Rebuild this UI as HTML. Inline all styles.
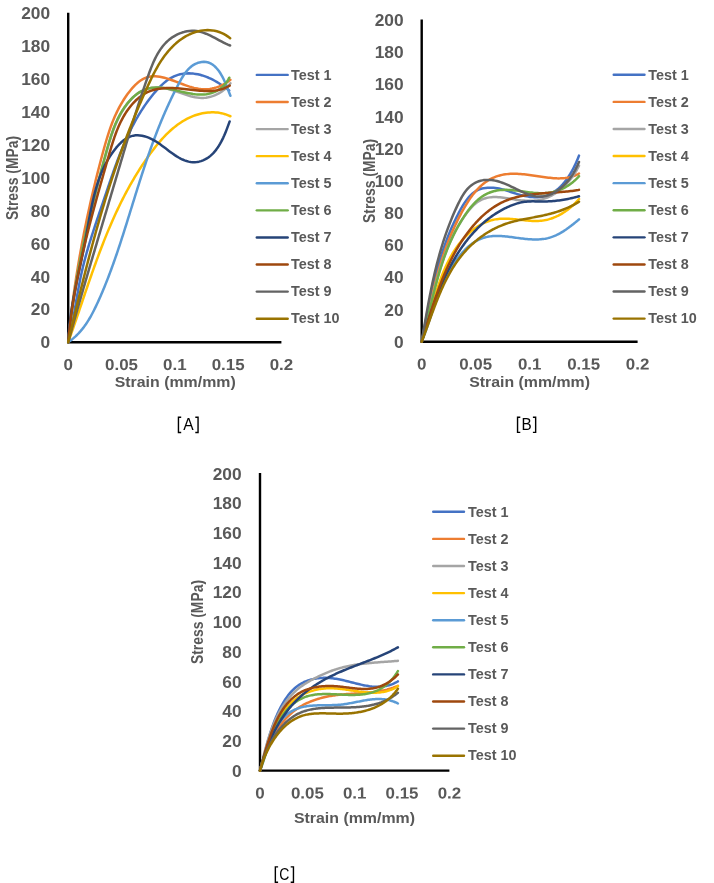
<!DOCTYPE html>
<html><head><meta charset="utf-8"><title>Stress-strain</title>
<style>
html,body{margin:0;padding:0;background:#fff;}
svg{display:block;font-family:"Liberation Sans",sans-serif;}
</style></head><body>
<svg width="714" height="883" viewBox="0 0 714 883">
<rect width="714" height="883" fill="#fff"/>
<defs><filter id="idf" x="0" y="0" width="714" height="883" filterUnits="userSpaceOnUse" color-interpolation-filters="sRGB"><feOffset dx="0" dy="0"/></filter></defs>
<g filter="url(#idf)">
<path d="M68.20 12.70 V342.20 H281.40" fill="none" stroke="#000" stroke-width="2.40" stroke-linejoin="round"/>
<path d="M68.20 342.20 L68.71 340.08 L69.21 337.96 L69.70 335.83 L70.17 333.69 L70.63 331.54 L71.07 329.38 L71.51 327.22 L71.93 325.05 L72.35 322.88 L72.76 320.70 L73.16 318.52 L73.55 316.33 L73.94 314.14 L74.33 311.95 L74.71 309.76 L75.09 307.56 L75.47 305.36 L75.84 303.16 L76.22 300.96 L76.60 298.76 L76.99 296.56 L77.37 294.36 L77.76 292.16 L78.16 289.96 L78.56 287.77 L78.97 285.58 L79.39 283.39 L79.82 281.20 L80.26 279.02 L80.71 276.85 L81.17 274.67 L81.65 272.51 L82.14 270.35 L82.64 268.20 L83.16 266.05 L83.69 263.91 L84.23 261.77 L84.79 259.64 L85.36 257.51 L85.94 255.39 L86.53 253.27 L87.13 251.16 L87.74 249.05 L88.36 246.94 L88.99 244.84 L89.62 242.74 L90.27 240.64 L90.92 238.55 L91.59 236.45 L92.25 234.36 L92.93 232.27 L93.61 230.18 L94.29 228.09 L94.98 226.01 L95.67 223.92 L96.37 221.84 L97.07 219.75 L97.77 217.67 L98.48 215.58 L99.19 213.49 L99.90 211.40 L100.61 209.31 L101.32 207.22 L102.03 205.13 L102.74 203.04 L103.45 200.94 L104.16 198.84 L104.87 196.74 L105.57 194.63 L106.28 192.53 L106.99 190.42 L107.70 188.32 L108.41 186.21 L109.12 184.10 L109.84 181.99 L110.56 179.89 L111.29 177.78 L112.01 175.68 L112.75 173.57 L113.49 171.47 L114.23 169.37 L114.99 167.28 L115.75 165.19 L116.51 163.10 L117.29 161.01 L118.08 158.93 L118.87 156.85 L119.68 154.78 L120.49 152.72 L121.32 150.66 L122.16 148.60 L123.01 146.56 L123.87 144.51 L124.75 142.48 L125.64 140.45 L126.55 138.43 L127.47 136.42 L128.40 134.42 L129.36 132.43 L130.33 130.45 L131.31 128.47 L132.32 126.51 L133.34 124.55 L134.38 122.61 L135.44 120.68 L136.52 118.76 L137.62 116.85 L138.74 114.95 L139.89 113.07 L141.06 111.20 L142.24 109.34 L143.46 107.50 L144.69 105.67 L145.95 103.85 L147.24 102.05 L148.55 100.26 L149.89 98.49 L151.25 96.74 L152.64 95.00 L154.06 93.28 L155.51 91.57 L156.98 89.89 L158.49 88.24 L160.04 86.64 L161.62 85.08 L163.25 83.59 L164.91 82.16 L166.63 80.81 L168.39 79.55 L170.20 78.39 L172.06 77.33 L173.98 76.39 L175.96 75.56 L177.99 74.87 L180.09 74.32 L182.23 73.89 L184.41 73.60 L186.63 73.43 L188.86 73.37 L191.11 73.44 L193.36 73.62 L195.60 73.92 L197.83 74.32 L200.04 74.82 L202.23 75.43 L204.38 76.13 L206.51 76.91 L208.60 77.77 L210.66 78.71 L212.69 79.71 L214.68 80.77 L216.64 81.89 L218.56 83.05 L220.43 84.25 L222.27 85.48 L224.07 86.74 L225.82 88.02 L227.53 89.31 L229.19 90.60" fill="none" stroke="#4472C4" stroke-width="2.50" stroke-linecap="round" stroke-linejoin="round"/>
<path d="M68.20 342.20 L68.42 339.87 L68.64 337.55 L68.86 335.22 L69.09 332.89 L69.33 330.57 L69.57 328.25 L69.82 325.92 L70.07 323.60 L70.33 321.28 L70.60 318.96 L70.86 316.64 L71.14 314.32 L71.42 312.00 L71.70 309.68 L71.99 307.36 L72.29 305.04 L72.59 302.73 L72.89 300.41 L73.20 298.10 L73.52 295.78 L73.84 293.47 L74.16 291.16 L74.49 288.85 L74.83 286.54 L75.17 284.22 L75.52 281.92 L75.87 279.61 L76.22 277.30 L76.58 274.99 L76.95 272.69 L77.32 270.38 L77.70 268.08 L78.08 265.77 L78.46 263.47 L78.85 261.17 L79.25 258.87 L79.65 256.56 L80.06 254.27 L80.47 251.97 L80.88 249.67 L81.30 247.37 L81.72 245.07 L82.15 242.78 L82.59 240.48 L83.03 238.19 L83.47 235.90 L83.92 233.61 L84.37 231.32 L84.83 229.03 L85.29 226.74 L85.76 224.45 L86.23 222.16 L86.71 219.87 L87.19 217.59 L87.68 215.30 L88.17 213.02 L88.66 210.74 L89.16 208.46 L89.67 206.17 L90.18 203.89 L90.69 201.62 L91.21 199.34 L91.73 197.06 L92.26 194.78 L92.79 192.51 L93.32 190.24 L93.86 187.96 L94.41 185.69 L94.96 183.42 L95.51 181.15 L96.07 178.88 L96.63 176.61 L97.20 174.34 L97.77 172.08 L98.35 169.81 L98.93 167.55 L99.51 165.29 L100.10 163.02 L100.69 160.76 L101.29 158.50 L101.89 156.24 L102.49 153.99 L103.10 151.73 L103.72 149.48 L104.34 147.22 L104.98 144.97 L105.62 142.73 L106.28 140.49 L106.95 138.25 L107.64 136.02 L108.35 133.80 L109.08 131.59 L109.83 129.38 L110.60 127.18 L111.40 124.99 L112.23 122.82 L113.08 120.65 L113.97 118.50 L114.89 116.36 L115.85 114.23 L116.84 112.12 L117.88 110.02 L118.95 107.93 L120.06 105.87 L121.22 103.82 L122.42 101.79 L123.68 99.77 L124.98 97.78 L126.33 95.81 L127.73 93.85 L129.19 91.92 L130.71 90.02 L132.28 88.16 L133.91 86.37 L135.59 84.67 L137.33 83.07 L139.12 81.59 L140.97 80.26 L142.87 79.09 L144.82 78.10 L146.82 77.32 L148.88 76.76 L150.98 76.40 L153.13 76.24 L155.32 76.26 L157.54 76.43 L159.79 76.75 L162.06 77.20 L164.36 77.76 L166.66 78.42 L168.98 79.15 L171.30 79.95 L173.62 80.79 L175.94 81.65 L178.24 82.54 L180.54 83.41 L182.81 84.27 L185.07 85.10 L187.31 85.88 L189.54 86.61 L191.77 87.27 L193.99 87.85 L196.22 88.35 L198.45 88.75 L200.69 89.04 L202.95 89.20 L205.21 89.24 L207.49 89.14 L209.78 88.90 L212.06 88.53 L214.33 88.02 L216.57 87.39 L218.79 86.62 L220.96 85.72 L223.08 84.69 L225.15 83.53 L227.15 82.24 L229.07 80.83 L230.40 79.72" fill="none" stroke="#ED7D31" stroke-width="2.50" stroke-linecap="round" stroke-linejoin="round"/>
<path d="M68.20 342.20 L68.43 339.92 L68.66 337.64 L68.90 335.36 L69.15 333.08 L69.40 330.80 L69.66 328.53 L69.93 326.26 L70.20 323.99 L70.48 321.72 L70.76 319.45 L71.05 317.19 L71.35 314.92 L71.65 312.66 L71.96 310.40 L72.28 308.14 L72.60 305.89 L72.93 303.63 L73.26 301.38 L73.60 299.13 L73.95 296.87 L74.30 294.62 L74.65 292.38 L75.01 290.13 L75.38 287.88 L75.75 285.64 L76.13 283.40 L76.52 281.16 L76.91 278.92 L77.30 276.68 L77.70 274.44 L78.10 272.20 L78.51 269.97 L78.93 267.73 L79.35 265.50 L79.78 263.26 L80.21 261.03 L80.64 258.80 L81.08 256.57 L81.53 254.34 L81.98 252.11 L82.43 249.89 L82.89 247.66 L83.36 245.44 L83.82 243.21 L84.30 240.99 L84.78 238.76 L85.26 236.54 L85.75 234.32 L86.24 232.10 L86.73 229.88 L87.23 227.66 L87.74 225.44 L88.24 223.22 L88.76 221.00 L89.27 218.78 L89.79 216.56 L90.32 214.35 L90.85 212.13 L91.38 209.91 L91.91 207.70 L92.45 205.48 L93.00 203.26 L93.54 201.05 L94.10 198.83 L94.65 196.62 L95.21 194.40 L95.77 192.19 L96.34 189.97 L96.90 187.76 L97.48 185.54 L98.05 183.33 L98.63 181.11 L99.21 178.90 L99.80 176.68 L100.38 174.47 L100.98 172.25 L101.57 170.04 L102.17 167.82 L102.77 165.61 L103.37 163.39 L103.98 161.18 L104.58 158.96 L105.20 156.74 L105.81 154.52 L106.43 152.31 L107.05 150.09 L107.68 147.87 L108.31 145.66 L108.96 143.46 L109.62 141.26 L110.30 139.06 L111.00 136.88 L111.72 134.71 L112.47 132.54 L113.24 130.40 L114.04 128.26 L114.87 126.15 L115.74 124.05 L116.65 121.97 L117.59 119.91 L118.58 117.88 L119.61 115.87 L120.68 113.88 L121.81 111.92 L122.99 109.99 L124.23 108.08 L125.52 106.21 L126.87 104.37 L128.28 102.57 L129.76 100.80 L131.31 99.09 L132.93 97.44 L134.62 95.89 L136.39 94.44 L138.25 93.11 L140.18 91.91 L142.19 90.85 L144.25 89.92 L146.37 89.13 L148.52 88.49 L150.71 87.99 L152.93 87.64 L155.16 87.43 L157.39 87.38 L159.62 87.48 L161.85 87.71 L164.08 88.06 L166.31 88.52 L168.53 89.07 L170.75 89.69 L172.97 90.38 L175.19 91.11 L177.41 91.86 L179.62 92.64 L181.83 93.41 L184.04 94.17 L186.25 94.90 L188.46 95.59 L190.66 96.21 L192.86 96.76 L195.07 97.22 L197.27 97.58 L199.46 97.82 L201.66 97.92 L203.86 97.88 L206.05 97.68 L208.24 97.33 L210.41 96.82 L212.55 96.16 L214.67 95.36 L216.74 94.43 L218.77 93.36 L220.73 92.17 L222.64 90.86 L224.47 89.44 L226.22 87.90 L227.88 86.26 L229.44 84.52 L230.40 83.32" fill="none" stroke="#A5A5A5" stroke-width="2.50" stroke-linecap="round" stroke-linejoin="round"/>
<path d="M68.20 342.20 L68.85 340.40 L69.49 338.60 L70.13 336.79 L70.77 334.99 L71.41 333.18 L72.04 331.38 L72.67 329.57 L73.30 327.77 L73.93 325.96 L74.55 324.16 L75.17 322.35 L75.79 320.54 L76.41 318.74 L77.03 316.93 L77.65 315.12 L78.27 313.32 L78.88 311.51 L79.49 309.70 L80.11 307.90 L80.72 306.09 L81.33 304.29 L81.95 302.48 L82.56 300.68 L83.17 298.87 L83.78 297.07 L84.40 295.27 L85.01 293.46 L85.63 291.66 L86.24 289.86 L86.86 288.06 L87.47 286.26 L88.09 284.46 L88.71 282.66 L89.34 280.86 L89.96 279.07 L90.58 277.27 L91.21 275.48 L91.84 273.69 L92.47 271.89 L93.11 270.10 L93.74 268.32 L94.38 266.53 L95.02 264.74 L95.67 262.96 L96.32 261.17 L96.97 259.39 L97.63 257.61 L98.28 255.83 L98.95 254.06 L99.61 252.28 L100.28 250.51 L100.96 248.74 L101.64 246.97 L102.32 245.20 L103.01 243.44 L103.70 241.67 L104.40 239.91 L105.10 238.15 L105.81 236.40 L106.53 234.64 L107.24 232.89 L107.97 231.14 L108.70 229.39 L109.44 227.65 L110.18 225.90 L110.93 224.17 L111.68 222.43 L112.44 220.69 L113.21 218.96 L113.99 217.23 L114.77 215.51 L115.56 213.78 L116.36 212.06 L117.16 210.35 L117.97 208.63 L118.79 206.92 L119.62 205.21 L120.45 203.51 L121.30 201.81 L122.15 200.11 L123.01 198.42 L123.88 196.72 L124.75 195.04 L125.64 193.35 L126.53 191.67 L127.44 189.99 L128.35 188.32 L129.28 186.65 L130.21 184.98 L131.15 183.32 L132.10 181.66 L133.07 180.01 L134.04 178.36 L135.02 176.71 L136.01 175.07 L137.02 173.43 L138.03 171.80 L139.06 170.17 L140.10 168.54 L141.14 166.92 L142.20 165.30 L143.27 163.69 L144.36 162.08 L145.45 160.48 L146.56 158.88 L147.67 157.28 L148.80 155.69 L149.95 154.11 L151.10 152.53 L152.27 150.97 L153.46 149.41 L154.65 147.87 L155.86 146.33 L157.09 144.82 L158.33 143.32 L159.59 141.83 L160.86 140.37 L162.14 138.93 L163.45 137.50 L164.77 136.11 L166.11 134.73 L167.46 133.39 L168.83 132.07 L170.23 130.78 L171.63 129.52 L173.06 128.29 L174.51 127.10 L175.98 125.94 L177.46 124.81 L178.97 123.73 L180.50 122.69 L182.04 121.68 L183.61 120.72 L185.20 119.80 L186.81 118.93 L188.45 118.10 L190.10 117.32 L191.78 116.59 L193.49 115.92 L195.21 115.29 L196.96 114.72 L198.74 114.20 L200.54 113.74 L202.36 113.34 L204.20 113.00 L206.07 112.73 L207.95 112.52 L209.84 112.38 L211.74 112.32 L213.65 112.33 L215.56 112.42 L217.48 112.60 L219.40 112.86 L221.31 113.21 L223.21 113.65 L225.10 114.18 L226.99 114.82 L228.85 115.55 L230.40 116.25" fill="none" stroke="#FFC000" stroke-width="2.50" stroke-linecap="round" stroke-linejoin="round"/>
<path d="M68.20 342.20 L70.16 340.82 L72.03 339.39 L73.83 337.89 L75.56 336.35 L77.22 334.75 L78.81 333.11 L80.33 331.41 L81.80 329.68 L83.21 327.90 L84.57 326.09 L85.87 324.24 L87.13 322.35 L88.35 320.44 L89.52 318.49 L90.66 316.52 L91.76 314.52 L92.83 312.51 L93.87 310.47 L94.89 308.42 L95.89 306.36 L96.87 304.28 L97.83 302.20 L98.78 300.11 L99.72 298.01 L100.65 295.90 L101.56 293.79 L102.46 291.67 L103.36 289.55 L104.24 287.42 L105.11 285.29 L105.97 283.15 L106.82 281.01 L107.66 278.86 L108.49 276.71 L109.31 274.55 L110.13 272.39 L110.93 270.22 L111.73 268.05 L112.51 265.88 L113.29 263.71 L114.07 261.53 L114.83 259.35 L115.59 257.17 L116.34 254.99 L117.09 252.80 L117.83 250.61 L118.56 248.42 L119.29 246.23 L120.01 244.04 L120.73 241.85 L121.44 239.66 L122.15 237.46 L122.85 235.27 L123.55 233.08 L124.25 230.88 L124.94 228.69 L125.63 226.50 L126.32 224.31 L127.01 222.12 L127.69 219.93 L128.37 217.74 L129.05 215.56 L129.73 213.37 L130.40 211.19 L131.08 209.00 L131.76 206.82 L132.43 204.63 L133.11 202.45 L133.78 200.27 L134.46 198.09 L135.14 195.91 L135.81 193.73 L136.49 191.56 L137.17 189.38 L137.86 187.21 L138.54 185.03 L139.23 182.86 L139.92 180.69 L140.62 178.51 L141.31 176.34 L142.02 174.17 L142.72 172.01 L143.43 169.84 L144.14 167.67 L144.86 165.51 L145.59 163.35 L146.32 161.18 L147.05 159.02 L147.79 156.86 L148.54 154.70 L149.29 152.55 L150.05 150.39 L150.82 148.23 L151.59 146.08 L152.37 143.93 L153.16 141.78 L153.96 139.63 L154.76 137.48 L155.58 135.33 L156.40 133.18 L157.24 131.04 L158.08 128.89 L158.93 126.75 L159.79 124.61 L160.66 122.47 L161.55 120.33 L162.44 118.20 L163.35 116.06 L164.26 113.93 L165.19 111.80 L166.13 109.66 L167.08 107.53 L168.05 105.41 L169.03 103.28 L170.02 101.16 L171.02 99.03 L172.04 96.91 L173.07 94.79 L174.12 92.67 L175.18 90.55 L176.25 88.44 L177.34 86.32 L178.45 84.21 L179.58 82.11 L180.73 80.03 L181.92 77.99 L183.14 76.01 L184.42 74.09 L185.76 72.26 L187.16 70.52 L188.64 68.90 L190.19 67.41 L191.84 66.06 L193.58 64.87 L195.42 63.86 L197.38 63.04 L199.45 62.41 L201.64 62.01 L203.91 61.87 L206.18 62.01 L208.39 62.48 L210.48 63.31 L212.43 64.47 L214.23 65.89 L215.90 67.49 L217.45 69.23 L218.89 71.07 L220.22 73.01 L221.45 75.03 L222.60 77.11 L223.67 79.24 L224.68 81.41 L225.63 83.60 L226.52 85.79 L227.38 87.97 L228.21 90.12 L229.02 92.23 L229.82 94.28 L230.40 95.74" fill="none" stroke="#5B9BD5" stroke-width="2.50" stroke-linecap="round" stroke-linejoin="round"/>
<path d="M68.20 342.20 L68.42 339.92 L68.64 337.63 L68.88 335.35 L69.11 333.07 L69.36 330.80 L69.61 328.53 L69.87 326.25 L70.14 323.99 L70.41 321.72 L70.69 319.45 L70.97 317.19 L71.26 314.93 L71.56 312.67 L71.87 310.41 L72.18 308.16 L72.49 305.90 L72.82 303.65 L73.14 301.40 L73.48 299.15 L73.82 296.91 L74.17 294.66 L74.52 292.42 L74.88 290.18 L75.24 287.94 L75.61 285.70 L75.98 283.46 L76.36 281.23 L76.75 278.99 L77.14 276.76 L77.54 274.53 L77.94 272.30 L78.35 270.07 L78.76 267.84 L79.18 265.61 L79.60 263.38 L80.03 261.16 L80.46 258.93 L80.90 256.71 L81.35 254.49 L81.79 252.27 L82.25 250.05 L82.70 247.83 L83.17 245.61 L83.63 243.39 L84.10 241.17 L84.58 238.96 L85.06 236.74 L85.55 234.53 L86.03 232.31 L86.53 230.10 L87.03 227.88 L87.53 225.67 L88.03 223.46 L88.54 221.24 L89.06 219.03 L89.58 216.82 L90.10 214.61 L90.62 212.40 L91.15 210.18 L91.69 207.97 L92.23 205.76 L92.77 203.55 L93.31 201.34 L93.86 199.13 L94.41 196.92 L94.97 194.71 L95.52 192.50 L96.09 190.28 L96.65 188.07 L97.22 185.86 L97.79 183.65 L98.36 181.43 L98.94 179.22 L99.52 177.01 L100.11 174.79 L100.69 172.58 L101.28 170.37 L101.87 168.15 L102.47 165.93 L103.07 163.72 L103.67 161.50 L104.27 159.28 L104.87 157.06 L105.48 154.84 L106.09 152.62 L106.70 150.40 L107.32 148.18 L107.95 145.97 L108.59 143.76 L109.25 141.55 L109.92 139.35 L110.61 137.16 L111.32 134.98 L112.06 132.82 L112.82 130.67 L113.62 128.53 L114.45 126.41 L115.31 124.30 L116.21 122.22 L117.15 120.16 L118.14 118.12 L119.17 116.11 L120.25 114.12 L121.38 112.16 L122.56 110.23 L123.81 108.33 L125.11 106.46 L126.47 104.63 L127.90 102.83 L129.39 101.07 L130.95 99.35 L132.58 97.71 L134.27 96.14 L136.03 94.67 L137.86 93.32 L139.74 92.10 L141.68 91.01 L143.67 90.06 L145.70 89.27 L147.77 88.63 L149.88 88.16 L152.01 87.82 L154.17 87.63 L156.36 87.56 L158.56 87.60 L160.79 87.74 L163.04 87.98 L165.31 88.29 L167.59 88.67 L169.88 89.10 L172.19 89.58 L174.50 90.09 L176.81 90.62 L179.13 91.15 L181.45 91.69 L183.77 92.21 L186.09 92.71 L188.40 93.17 L190.71 93.58 L193.00 93.94 L195.29 94.22 L197.56 94.41 L199.81 94.52 L202.04 94.51 L204.26 94.39 L206.45 94.15 L208.61 93.77 L210.73 93.25 L212.80 92.59 L214.82 91.80 L216.78 90.85 L218.67 89.76 L220.49 88.52 L222.21 87.12 L223.85 85.56 L225.38 83.85 L226.81 81.96 L228.12 79.91 L229.30 77.69" fill="none" stroke="#70AD47" stroke-width="2.50" stroke-linecap="round" stroke-linejoin="round"/>
<path d="M68.20 342.20 L68.31 339.95 L68.43 337.71 L68.58 335.47 L68.74 333.25 L68.93 331.03 L69.13 328.82 L69.35 326.62 L69.58 324.42 L69.83 322.23 L70.10 320.04 L70.38 317.87 L70.68 315.69 L70.99 313.52 L71.31 311.36 L71.64 309.20 L71.99 307.05 L72.35 304.90 L72.72 302.75 L73.10 300.61 L73.49 298.47 L73.88 296.33 L74.29 294.20 L74.70 292.07 L75.12 289.94 L75.55 287.81 L75.98 285.68 L76.42 283.55 L76.86 281.43 L77.30 279.30 L77.75 277.17 L78.21 275.05 L78.66 272.92 L79.12 270.79 L79.57 268.67 L80.03 266.54 L80.49 264.40 L80.94 262.27 L81.40 260.13 L81.85 257.99 L82.30 255.85 L82.75 253.71 L83.19 251.56 L83.63 249.41 L84.06 247.25 L84.49 245.09 L84.91 242.92 L85.32 240.75 L85.73 238.57 L86.13 236.39 L86.52 234.20 L86.91 232.01 L87.30 229.82 L87.69 227.63 L88.08 225.43 L88.47 223.23 L88.86 221.04 L89.25 218.84 L89.66 216.64 L90.06 214.45 L90.48 212.26 L90.91 210.07 L91.34 207.89 L91.79 205.71 L92.26 203.54 L92.74 201.37 L93.23 199.21 L93.74 197.05 L94.27 194.91 L94.83 192.77 L95.40 190.65 L96.00 188.53 L96.62 186.42 L97.26 184.33 L97.94 182.25 L98.64 180.18 L99.37 178.12 L100.13 176.08 L100.93 174.06 L101.76 172.05 L102.63 170.05 L103.53 168.08 L104.47 166.12 L105.45 164.18 L106.47 162.26 L107.53 160.36 L108.63 158.48 L109.78 156.62 L110.98 154.78 L112.22 152.97 L113.51 151.18 L114.85 149.41 L116.25 147.67 L117.69 145.98 L119.20 144.35 L120.76 142.80 L122.37 141.35 L124.05 140.02 L125.79 138.81 L127.60 137.76 L129.47 136.86 L131.42 136.16 L133.43 135.65 L135.51 135.35 L137.66 135.28 L139.86 135.42 L142.07 135.75 L144.27 136.25 L146.44 136.89 L148.55 137.67 L150.60 138.56 L152.59 139.55 L154.54 140.64 L156.44 141.80 L158.31 143.03 L160.15 144.31 L161.97 145.64 L163.78 147.00 L165.59 148.37 L167.40 149.76 L169.22 151.14 L171.06 152.50 L172.92 153.83 L174.81 155.12 L176.71 156.34 L178.63 157.49 L180.58 158.56 L182.54 159.51 L184.53 160.35 L186.54 161.05 L188.56 161.61 L190.61 162.00 L192.67 162.21 L194.76 162.22 L196.85 162.04 L198.94 161.66 L201.01 161.10 L203.04 160.36 L205.00 159.46 L206.89 158.40 L208.69 157.20 L210.40 155.86 L212.03 154.40 L213.57 152.82 L215.03 151.15 L216.41 149.38 L217.73 147.54 L218.97 145.64 L220.14 143.68 L221.25 141.68 L222.29 139.64 L223.28 137.59 L224.21 135.53 L225.08 133.48 L225.91 131.43 L226.71 129.40 L227.47 127.38 L228.21 125.38 L228.94 123.39 L229.66 121.44" fill="none" stroke="#264478" stroke-width="2.50" stroke-linecap="round" stroke-linejoin="round"/>
<path d="M68.20 342.20 L68.40 339.96 L68.61 337.73 L68.83 335.49 L69.06 333.27 L69.30 331.04 L69.54 328.82 L69.80 326.60 L70.06 324.39 L70.33 322.18 L70.61 319.97 L70.89 317.77 L71.19 315.57 L71.49 313.37 L71.80 311.17 L72.12 308.98 L72.45 306.79 L72.78 304.60 L73.12 302.42 L73.47 300.24 L73.83 298.06 L74.19 295.88 L74.56 293.71 L74.94 291.54 L75.32 289.37 L75.71 287.20 L76.11 285.03 L76.51 282.87 L76.93 280.71 L77.34 278.55 L77.77 276.39 L78.19 274.24 L78.63 272.09 L79.07 269.93 L79.52 267.78 L79.97 265.64 L80.43 263.49 L80.90 261.34 L81.37 259.20 L81.84 257.05 L82.32 254.91 L82.81 252.77 L83.30 250.63 L83.80 248.49 L84.30 246.36 L84.80 244.22 L85.31 242.08 L85.83 239.95 L86.35 237.81 L86.87 235.68 L87.40 233.54 L87.94 231.41 L88.47 229.28 L89.02 227.15 L89.56 225.01 L90.11 222.88 L90.66 220.75 L91.22 218.62 L91.78 216.49 L92.34 214.36 L92.91 212.22 L93.48 210.09 L94.05 207.96 L94.63 205.83 L95.21 203.69 L95.79 201.56 L96.38 199.42 L96.97 197.29 L97.56 195.15 L98.15 193.02 L98.75 190.88 L99.34 188.74 L99.94 186.60 L100.55 184.46 L101.15 182.32 L101.76 180.18 L102.37 178.04 L102.98 175.89 L103.59 173.75 L104.20 171.60 L104.81 169.45 L105.43 167.30 L106.05 165.15 L106.67 163.00 L107.29 160.84 L107.91 158.68 L108.53 156.52 L109.15 154.36 L109.78 152.20 L110.41 150.04 L111.05 147.88 L111.70 145.73 L112.37 143.59 L113.05 141.45 L113.74 139.32 L114.46 137.20 L115.21 135.09 L115.97 132.99 L116.77 130.91 L117.60 128.85 L118.46 126.81 L119.35 124.78 L120.28 122.78 L121.25 120.80 L122.27 118.84 L123.33 116.91 L124.44 115.00 L125.59 113.13 L126.80 111.28 L128.07 109.47 L129.39 107.69 L130.76 105.95 L132.20 104.25 L133.69 102.61 L135.23 101.02 L136.83 99.51 L138.47 98.07 L140.17 96.71 L141.92 95.44 L143.72 94.26 L145.56 93.19 L147.45 92.23 L149.38 91.38 L151.36 90.65 L153.38 90.02 L155.43 89.48 L157.51 89.04 L159.63 88.69 L161.78 88.42 L163.95 88.22 L166.14 88.09 L168.35 88.03 L170.58 88.03 L172.83 88.08 L175.09 88.17 L177.35 88.31 L179.62 88.48 L181.90 88.68 L184.17 88.91 L186.45 89.15 L188.72 89.40 L190.98 89.66 L193.23 89.93 L195.46 90.18 L197.69 90.42 L199.90 90.64 L202.11 90.82 L204.30 90.95 L206.47 91.03 L208.64 91.05 L210.80 90.99 L212.94 90.85 L215.07 90.62 L217.19 90.28 L219.30 89.84 L221.40 89.27 L223.49 88.57 L225.57 87.73 L227.64 86.75 L229.70 85.60" fill="none" stroke="#9E480E" stroke-width="2.50" stroke-linecap="round" stroke-linejoin="round"/>
<path d="M68.20 342.20 L68.84 339.87 L69.49 337.54 L70.13 335.21 L70.78 332.88 L71.43 330.55 L72.08 328.21 L72.74 325.88 L73.39 323.55 L74.05 321.21 L74.71 318.88 L75.37 316.54 L76.03 314.20 L76.70 311.87 L77.36 309.53 L78.03 307.19 L78.70 304.86 L79.37 302.52 L80.04 300.18 L80.71 297.84 L81.39 295.50 L82.06 293.16 L82.74 290.82 L83.42 288.48 L84.10 286.14 L84.78 283.80 L85.46 281.46 L86.14 279.12 L86.82 276.78 L87.51 274.44 L88.19 272.10 L88.88 269.76 L89.57 267.42 L90.25 265.08 L90.94 262.74 L91.63 260.40 L92.32 258.06 L93.01 255.72 L93.71 253.38 L94.40 251.04 L95.09 248.70 L95.78 246.36 L96.48 244.02 L97.17 241.68 L97.86 239.34 L98.56 237.00 L99.25 234.67 L99.95 232.33 L100.64 229.99 L101.34 227.65 L102.03 225.32 L102.73 222.98 L103.43 220.65 L104.12 218.31 L104.82 215.98 L105.51 213.64 L106.21 211.31 L106.90 208.98 L107.60 206.65 L108.29 204.31 L108.99 201.98 L109.68 199.65 L110.38 197.32 L111.07 195.00 L111.76 192.67 L112.46 190.34 L113.15 188.01 L113.84 185.69 L114.53 183.37 L115.22 181.04 L115.91 178.72 L116.60 176.40 L117.29 174.08 L117.98 171.76 L118.66 169.44 L119.35 167.12 L120.04 164.80 L120.72 162.49 L121.41 160.17 L122.09 157.86 L122.78 155.54 L123.46 153.23 L124.15 150.92 L124.84 148.61 L125.53 146.29 L126.22 143.98 L126.91 141.67 L127.60 139.36 L128.30 137.05 L129.00 134.73 L129.70 132.42 L130.40 130.11 L131.11 127.80 L131.82 125.48 L132.53 123.17 L133.25 120.86 L133.97 118.54 L134.69 116.23 L135.42 113.91 L136.15 111.60 L136.89 109.28 L137.63 106.96 L138.38 104.64 L139.13 102.32 L139.89 100.00 L140.66 97.67 L141.43 95.35 L142.21 93.02 L142.99 90.70 L143.78 88.37 L144.58 86.04 L145.38 83.70 L146.19 81.37 L147.01 79.03 L147.84 76.70 L148.67 74.36 L149.52 72.02 L150.39 69.70 L151.29 67.39 L152.21 65.10 L153.17 62.84 L154.17 60.60 L155.21 58.41 L156.30 56.25 L157.45 54.14 L158.66 52.09 L159.94 50.09 L161.28 48.15 L162.70 46.28 L164.21 44.49 L165.80 42.77 L167.48 41.14 L169.25 39.60 L171.13 38.15 L173.12 36.80 L175.21 35.56 L177.42 34.42 L179.73 33.42 L182.11 32.55 L184.54 31.84 L187.00 31.29 L189.48 30.93 L191.93 30.78 L194.36 30.83 L196.75 31.08 L199.10 31.51 L201.42 32.11 L203.72 32.85 L205.99 33.71 L208.24 34.67 L210.46 35.71 L212.67 36.81 L214.87 37.96 L217.05 39.13 L219.23 40.30 L221.40 41.46 L223.57 42.57 L225.74 43.63 L227.92 44.61 L230.10 45.50" fill="none" stroke="#636363" stroke-width="2.50" stroke-linecap="round" stroke-linejoin="round"/>
<path d="M68.20 342.20 L68.75 339.86 L69.30 337.53 L69.85 335.20 L70.40 332.86 L70.95 330.53 L71.50 328.20 L72.05 325.87 L72.61 323.54 L73.16 321.21 L73.71 318.88 L74.27 316.55 L74.83 314.22 L75.39 311.89 L75.95 309.57 L76.51 307.24 L77.07 304.92 L77.63 302.59 L78.20 300.27 L78.76 297.95 L79.33 295.62 L79.90 293.30 L80.47 290.98 L81.04 288.66 L81.62 286.34 L82.20 284.03 L82.78 281.71 L83.36 279.39 L83.94 277.08 L84.53 274.77 L85.11 272.45 L85.70 270.14 L86.30 267.83 L86.89 265.52 L87.49 263.21 L88.09 260.90 L88.69 258.59 L89.30 256.29 L89.90 253.98 L90.51 251.68 L91.13 249.37 L91.75 247.07 L92.37 244.77 L92.99 242.47 L93.62 240.17 L94.25 237.87 L94.88 235.57 L95.51 233.28 L96.15 230.98 L96.80 228.69 L97.45 226.40 L98.10 224.11 L98.75 221.82 L99.41 219.53 L100.07 217.24 L100.74 214.95 L101.41 212.67 L102.08 210.38 L102.76 208.10 L103.44 205.82 L104.13 203.54 L104.82 201.26 L105.51 198.98 L106.21 196.71 L106.92 194.43 L107.63 192.16 L108.34 189.88 L109.06 187.61 L109.78 185.34 L110.51 183.07 L111.25 180.81 L111.98 178.54 L112.73 176.28 L113.47 174.01 L114.23 171.75 L114.99 169.49 L115.75 167.23 L116.52 164.98 L117.30 162.72 L118.08 160.47 L118.86 158.21 L119.65 155.96 L120.45 153.71 L121.25 151.47 L122.06 149.22 L122.88 146.97 L123.70 144.73 L124.53 142.49 L125.36 140.25 L126.20 138.01 L127.04 135.77 L127.90 133.54 L128.76 131.30 L129.62 129.07 L130.49 126.84 L131.37 124.61 L132.25 122.38 L133.15 120.16 L134.04 117.93 L134.95 115.71 L135.86 113.49 L136.78 111.27 L137.71 109.06 L138.64 106.84 L139.58 104.63 L140.53 102.42 L141.48 100.21 L142.44 98.00 L143.41 95.79 L144.39 93.59 L145.38 91.39 L146.37 89.19 L147.37 86.99 L148.38 84.79 L149.40 82.60 L150.43 80.41 L151.48 78.24 L152.54 76.07 L153.63 73.92 L154.74 71.78 L155.88 69.66 L157.04 67.57 L158.24 65.49 L159.47 63.45 L160.74 61.43 L162.04 59.44 L163.39 57.48 L164.79 55.56 L166.23 53.68 L167.72 51.84 L169.27 50.04 L170.87 48.28 L172.53 46.57 L174.24 44.92 L176.01 43.32 L177.82 41.79 L179.69 40.33 L181.61 38.94 L183.57 37.63 L185.58 36.41 L187.63 35.28 L189.73 34.25 L191.86 33.31 L194.03 32.49 L196.23 31.78 L198.46 31.18 L200.72 30.71 L203.00 30.37 L205.30 30.16 L207.60 30.09 L209.92 30.16 L212.23 30.39 L214.53 30.77 L216.83 31.31 L219.11 32.01 L221.38 32.89 L223.61 33.94 L225.82 35.17 L228.00 36.59 L230.13 38.21" fill="none" stroke="#997300" stroke-width="2.50" stroke-linecap="round" stroke-linejoin="round"/>
<text x="50.10" y="348.30" font-size="17.20" font-weight="bold" fill="#595959" text-anchor="end" textLength="9.65" lengthAdjust="spacingAndGlyphs">0</text>
<text x="50.10" y="315.40" font-size="17.20" font-weight="bold" fill="#595959" text-anchor="end" textLength="19.30" lengthAdjust="spacingAndGlyphs">20</text>
<text x="50.10" y="282.50" font-size="17.20" font-weight="bold" fill="#595959" text-anchor="end" textLength="19.30" lengthAdjust="spacingAndGlyphs">40</text>
<text x="50.10" y="249.60" font-size="17.20" font-weight="bold" fill="#595959" text-anchor="end" textLength="19.30" lengthAdjust="spacingAndGlyphs">60</text>
<text x="50.10" y="216.70" font-size="17.20" font-weight="bold" fill="#595959" text-anchor="end" textLength="19.30" lengthAdjust="spacingAndGlyphs">80</text>
<text x="50.10" y="183.80" font-size="17.20" font-weight="bold" fill="#595959" text-anchor="end" textLength="28.95" lengthAdjust="spacingAndGlyphs">100</text>
<text x="50.10" y="150.90" font-size="17.20" font-weight="bold" fill="#595959" text-anchor="end" textLength="28.95" lengthAdjust="spacingAndGlyphs">120</text>
<text x="50.10" y="118.00" font-size="17.20" font-weight="bold" fill="#595959" text-anchor="end" textLength="28.95" lengthAdjust="spacingAndGlyphs">140</text>
<text x="50.10" y="85.10" font-size="17.20" font-weight="bold" fill="#595959" text-anchor="end" textLength="28.95" lengthAdjust="spacingAndGlyphs">160</text>
<text x="50.10" y="52.20" font-size="17.20" font-weight="bold" fill="#595959" text-anchor="end" textLength="28.95" lengthAdjust="spacingAndGlyphs">180</text>
<text x="50.10" y="19.30" font-size="17.20" font-weight="bold" fill="#595959" text-anchor="end" textLength="28.95" lengthAdjust="spacingAndGlyphs">200</text>
<text transform="rotate(0.05 68.20 370.10)" x="68.20" y="370.10" font-size="15.90" font-weight="bold" fill="#595959" text-anchor="middle" textLength="9.45" lengthAdjust="spacingAndGlyphs">0</text>
<text transform="rotate(0.05 121.50 370.10)" x="121.50" y="370.10" font-size="15.90" font-weight="bold" fill="#595959" text-anchor="middle" textLength="32.95" lengthAdjust="spacingAndGlyphs">0.05</text>
<text transform="rotate(0.05 174.80 370.10)" x="174.80" y="370.10" font-size="15.90" font-weight="bold" fill="#595959" text-anchor="middle" textLength="23.50" lengthAdjust="spacingAndGlyphs">0.1</text>
<text transform="rotate(0.05 228.10 370.10)" x="228.10" y="370.10" font-size="15.90" font-weight="bold" fill="#595959" text-anchor="middle" textLength="32.95" lengthAdjust="spacingAndGlyphs">0.15</text>
<text transform="rotate(0.05 281.40 370.10)" x="281.40" y="370.10" font-size="15.90" font-weight="bold" fill="#595959" text-anchor="middle" textLength="23.50" lengthAdjust="spacingAndGlyphs">0.2</text>
<text x="114.70" y="387.00" font-size="14.4" font-weight="bold" fill="#595959" textLength="121.00" lengthAdjust="spacingAndGlyphs">Strain (mm/mm)</text>
<text transform="translate(18.40 219.90) rotate(-90)" font-size="16.00" font-weight="bold" fill="#595959" textLength="84.00" lengthAdjust="spacingAndGlyphs">Stress (MPa)</text>
<line x1="256.80" y1="74.90" x2="287.70" y2="74.90" stroke="#4472C4" stroke-width="2.4" stroke-linecap="round"/>
<text x="291.00" y="79.60" font-size="14.4" font-weight="bold" fill="#595959">Test 1</text>
<line x1="256.80" y1="101.99" x2="287.70" y2="101.99" stroke="#ED7D31" stroke-width="2.4" stroke-linecap="round"/>
<text x="291.00" y="106.69" font-size="14.4" font-weight="bold" fill="#595959">Test 2</text>
<line x1="256.80" y1="129.08" x2="287.70" y2="129.08" stroke="#A5A5A5" stroke-width="2.4" stroke-linecap="round"/>
<text x="291.00" y="133.78" font-size="14.4" font-weight="bold" fill="#595959">Test 3</text>
<line x1="256.80" y1="156.17" x2="287.70" y2="156.17" stroke="#FFC000" stroke-width="2.4" stroke-linecap="round"/>
<text x="291.00" y="160.87" font-size="14.4" font-weight="bold" fill="#595959">Test 4</text>
<line x1="256.80" y1="183.26" x2="287.70" y2="183.26" stroke="#5B9BD5" stroke-width="2.4" stroke-linecap="round"/>
<text x="291.00" y="187.96" font-size="14.4" font-weight="bold" fill="#595959">Test 5</text>
<line x1="256.80" y1="210.35" x2="287.70" y2="210.35" stroke="#70AD47" stroke-width="2.4" stroke-linecap="round"/>
<text x="291.00" y="215.05" font-size="14.4" font-weight="bold" fill="#595959">Test 6</text>
<line x1="256.80" y1="237.44" x2="287.70" y2="237.44" stroke="#264478" stroke-width="2.4" stroke-linecap="round"/>
<text x="291.00" y="242.14" font-size="14.4" font-weight="bold" fill="#595959">Test 7</text>
<line x1="256.80" y1="264.53" x2="287.70" y2="264.53" stroke="#9E480E" stroke-width="2.4" stroke-linecap="round"/>
<text x="291.00" y="269.23" font-size="14.4" font-weight="bold" fill="#595959">Test 8</text>
<line x1="256.80" y1="291.62" x2="287.70" y2="291.62" stroke="#636363" stroke-width="2.4" stroke-linecap="round"/>
<text x="291.00" y="296.32" font-size="14.4" font-weight="bold" fill="#595959">Test 9</text>
<line x1="256.80" y1="318.71" x2="287.70" y2="318.71" stroke="#997300" stroke-width="2.4" stroke-linecap="round"/>
<text x="291.00" y="323.41" font-size="14.4" font-weight="bold" fill="#595959">Test 10</text>
<path d="M181.20 417.20 H178.45 V432.50 H181.20 M195.30 417.20 H198.05 V432.50 H195.30" fill="none" stroke="#000" stroke-width="1.4"/>
<text x="183.20" y="430.00" font-size="17" fill="#000" textLength="10.40" lengthAdjust="spacingAndGlyphs">A</text>
<path d="M421.70 19.50 V341.70 H637.60" fill="none" stroke="#000" stroke-width="2.40" stroke-linejoin="round"/>
<path d="M421.70 341.70 L422.05 339.91 L422.40 338.12 L422.75 336.33 L423.10 334.54 L423.45 332.75 L423.80 330.96 L424.14 329.17 L424.49 327.37 L424.84 325.58 L425.19 323.79 L425.54 321.99 L425.89 320.20 L426.24 318.40 L426.59 316.61 L426.94 314.82 L427.30 313.02 L427.66 311.23 L428.02 309.44 L428.38 307.64 L428.75 305.85 L429.12 304.06 L429.49 302.27 L429.86 300.48 L430.24 298.69 L430.63 296.90 L431.01 295.11 L431.41 293.33 L431.80 291.54 L432.20 289.76 L432.61 287.98 L433.02 286.20 L433.44 284.42 L433.87 282.64 L434.29 280.86 L434.73 279.09 L435.17 277.32 L435.62 275.55 L436.08 273.78 L436.54 272.01 L437.01 270.25 L437.49 268.49 L437.98 266.73 L438.47 264.97 L438.98 263.22 L439.49 261.47 L440.01 259.72 L440.54 257.97 L441.08 256.23 L441.63 254.49 L442.18 252.75 L442.75 251.02 L443.33 249.29 L443.92 247.56 L444.52 245.84 L445.13 244.12 L445.75 242.40 L446.39 240.69 L447.03 238.98 L447.69 237.27 L448.36 235.57 L449.04 233.87 L449.73 232.18 L450.44 230.49 L451.16 228.81 L451.89 227.12 L452.64 225.45 L453.40 223.78 L454.18 222.11 L454.96 220.45 L455.77 218.79 L456.59 217.13 L457.42 215.49 L458.27 213.84 L459.13 212.20 L460.01 210.57 L460.90 208.94 L461.82 207.33 L462.75 205.73 L463.72 204.15 L464.71 202.61 L465.74 201.11 L466.80 199.65 L467.91 198.24 L469.06 196.89 L470.26 195.61 L471.51 194.40 L472.82 193.27 L474.19 192.22 L475.62 191.27 L477.12 190.42 L478.69 189.68 L480.33 189.05 L482.06 188.54 L483.85 188.15 L485.71 187.88 L487.61 187.72 L489.54 187.65 L491.48 187.68 L493.41 187.80 L495.32 187.99 L497.19 188.25 L499.01 188.57 L500.77 188.95 L502.49 189.37 L504.18 189.83 L505.84 190.33 L507.48 190.85 L509.12 191.39 L510.76 191.95 L512.42 192.51 L514.10 193.06 L515.81 193.61 L517.57 194.14 L519.35 194.64 L521.17 195.12 L523.01 195.57 L524.86 195.97 L526.73 196.33 L528.61 196.64 L530.49 196.89 L532.37 197.07 L534.24 197.19 L536.09 197.23 L537.93 197.20 L539.74 197.07 L541.53 196.85 L543.27 196.54 L544.98 196.12 L546.65 195.60 L548.28 194.99 L549.87 194.28 L551.42 193.49 L552.94 192.62 L554.41 191.66 L555.85 190.63 L557.25 189.53 L558.61 188.37 L559.94 187.14 L561.23 185.85 L562.48 184.51 L563.69 183.11 L564.87 181.68 L566.01 180.19 L567.12 178.67 L568.19 177.12 L569.23 175.53 L570.23 173.92 L571.19 172.29 L572.13 170.64 L573.02 168.97 L573.89 167.30 L574.72 165.62 L575.51 163.94 L576.28 162.26 L577.01 160.58 L577.70 158.92 L578.37 157.27 L579.00 155.65" fill="none" stroke="#4472C4" stroke-width="2.50" stroke-linecap="round" stroke-linejoin="round"/>
<path d="M421.70 341.70 L422.08 340.01 L422.46 338.32 L422.84 336.63 L423.21 334.95 L423.59 333.26 L423.96 331.58 L424.33 329.89 L424.70 328.21 L425.07 326.53 L425.44 324.85 L425.81 323.17 L426.18 321.50 L426.55 319.82 L426.92 318.15 L427.29 316.47 L427.66 314.80 L428.03 313.13 L428.40 311.46 L428.78 309.80 L429.15 308.13 L429.53 306.47 L429.91 304.80 L430.29 303.14 L430.67 301.48 L431.06 299.83 L431.45 298.17 L431.84 296.51 L432.24 294.86 L432.63 293.21 L433.04 291.56 L433.44 289.91 L433.85 288.26 L434.27 286.62 L434.68 284.98 L435.11 283.33 L435.53 281.69 L435.97 280.05 L436.40 278.42 L436.85 276.78 L437.30 275.15 L437.75 273.52 L438.21 271.89 L438.68 270.26 L439.15 268.63 L439.63 267.01 L440.12 265.39 L440.61 263.77 L441.11 262.15 L441.62 260.53 L442.14 258.92 L442.66 257.31 L443.20 255.69 L443.74 254.09 L444.29 252.48 L444.84 250.87 L445.41 249.27 L445.99 247.67 L446.57 246.07 L447.17 244.47 L447.77 242.88 L448.38 241.29 L449.01 239.70 L449.64 238.11 L450.29 236.52 L450.94 234.94 L451.61 233.36 L452.29 231.78 L452.98 230.20 L453.68 228.62 L454.39 227.05 L455.12 225.48 L455.86 223.91 L456.61 222.34 L457.37 220.78 L458.14 219.22 L458.93 217.66 L459.73 216.10 L460.55 214.55 L461.37 212.99 L462.22 211.44 L463.07 209.90 L463.94 208.36 L464.83 206.82 L465.74 205.30 L466.66 203.79 L467.60 202.29 L468.55 200.81 L469.53 199.35 L470.53 197.91 L471.55 196.49 L472.59 195.09 L473.66 193.73 L474.74 192.39 L475.85 191.09 L476.99 189.81 L478.15 188.58 L479.34 187.38 L480.56 186.22 L481.80 185.11 L483.07 184.04 L484.38 183.01 L485.71 182.04 L487.07 181.11 L488.46 180.24 L489.88 179.42 L491.33 178.65 L492.80 177.94 L494.30 177.29 L495.82 176.69 L497.36 176.15 L498.92 175.67 L500.50 175.25 L502.10 174.88 L503.72 174.58 L505.35 174.33 L507.00 174.13 L508.66 173.97 L510.33 173.87 L512.02 173.80 L513.72 173.78 L515.42 173.79 L517.14 173.84 L518.86 173.92 L520.60 174.03 L522.33 174.17 L524.08 174.33 L525.82 174.51 L527.58 174.72 L529.33 174.94 L531.08 175.17 L532.83 175.41 L534.59 175.66 L536.34 175.92 L538.09 176.18 L539.83 176.44 L541.57 176.70 L543.30 176.95 L545.03 177.20 L546.75 177.43 L548.47 177.65 L550.17 177.85 L551.87 178.02 L553.56 178.16 L555.25 178.27 L556.93 178.35 L558.60 178.38 L560.26 178.37 L561.92 178.31 L563.56 178.19 L565.20 178.02 L566.84 177.78 L568.46 177.48 L570.08 177.11 L571.69 176.66 L573.29 176.13 L574.88 175.53 L576.47 174.83 L578.04 174.05 L579.00 173.51" fill="none" stroke="#ED7D31" stroke-width="2.50" stroke-linecap="round" stroke-linejoin="round"/>
<path d="M421.70 341.70 L422.13 340.06 L422.56 338.41 L422.98 336.77 L423.39 335.12 L423.80 333.46 L424.21 331.81 L424.62 330.15 L425.02 328.49 L425.42 326.83 L425.82 325.16 L426.21 323.49 L426.61 321.83 L427.00 320.16 L427.39 318.49 L427.78 316.81 L428.17 315.14 L428.56 313.47 L428.95 311.79 L429.34 310.12 L429.73 308.44 L430.12 306.77 L430.52 305.09 L430.91 303.41 L431.31 301.74 L431.71 300.06 L432.11 298.39 L432.52 296.71 L432.93 295.04 L433.34 293.37 L433.76 291.70 L434.18 290.03 L434.60 288.36 L435.04 286.69 L435.47 285.03 L435.91 283.36 L436.36 281.70 L436.82 280.04 L437.28 278.38 L437.75 276.73 L438.22 275.08 L438.70 273.43 L439.19 271.78 L439.69 270.14 L440.20 268.50 L440.72 266.86 L441.24 265.22 L441.78 263.59 L442.32 261.97 L442.88 260.35 L443.44 258.73 L444.02 257.11 L444.61 255.51 L445.20 253.90 L445.81 252.30 L446.44 250.71 L447.07 249.12 L447.72 247.53 L448.38 245.95 L449.05 244.38 L449.74 242.81 L450.44 241.25 L451.16 239.69 L451.89 238.14 L452.64 236.59 L453.40 235.05 L454.17 233.52 L454.97 232.00 L455.78 230.48 L456.60 228.97 L457.44 227.46 L458.30 225.97 L459.18 224.48 L460.07 223.00 L460.99 221.52 L461.92 220.06 L462.87 218.60 L463.84 217.15 L464.83 215.71 L465.84 214.28 L466.87 212.88 L467.93 211.49 L469.02 210.14 L470.13 208.83 L471.27 207.56 L472.45 206.34 L473.66 205.17 L474.91 204.06 L476.19 203.01 L477.51 202.04 L478.88 201.14 L480.28 200.33 L481.74 199.60 L483.24 198.97 L484.78 198.43 L486.38 197.99 L488.01 197.64 L489.67 197.38 L491.36 197.20 L493.08 197.10 L494.81 197.06 L496.55 197.08 L498.29 197.16 L500.03 197.30 L501.77 197.47 L503.49 197.69 L505.20 197.94 L506.91 198.21 L508.61 198.50 L510.31 198.79 L512.01 199.09 L513.71 199.38 L515.41 199.65 L517.12 199.90 L518.84 200.13 L520.57 200.33 L522.30 200.49 L524.02 200.62 L525.75 200.72 L527.48 200.78 L529.20 200.79 L530.91 200.76 L532.62 200.69 L534.32 200.56 L536.01 200.38 L537.68 200.15 L539.34 199.86 L540.98 199.52 L542.61 199.11 L544.21 198.63 L545.80 198.10 L547.36 197.50 L548.90 196.84 L550.42 196.13 L551.91 195.35 L553.39 194.53 L554.83 193.65 L556.25 192.73 L557.65 191.75 L559.02 190.73 L560.36 189.67 L561.68 188.56 L562.96 187.41 L564.22 186.23 L565.45 185.01 L566.65 183.75 L567.82 182.47 L568.96 181.15 L570.06 179.80 L571.14 178.43 L572.18 177.03 L573.18 175.61 L574.16 174.17 L575.10 172.72 L576.00 171.24 L576.87 169.75 L577.70 168.25 L578.49 166.73 L579.00 165.71" fill="none" stroke="#A5A5A5" stroke-width="2.50" stroke-linecap="round" stroke-linejoin="round"/>
<path d="M421.70 341.70 L422.14 340.37 L422.57 339.03 L423.00 337.68 L423.42 336.32 L423.85 334.95 L424.26 333.56 L424.68 332.17 L425.09 330.77 L425.51 329.35 L425.92 327.93 L426.33 326.50 L426.73 325.06 L427.14 323.62 L427.55 322.16 L427.96 320.70 L428.36 319.24 L428.77 317.77 L429.18 316.29 L429.59 314.81 L430.00 313.32 L430.42 311.83 L430.83 310.33 L431.25 308.84 L431.68 307.34 L432.10 305.83 L432.53 304.33 L432.96 302.82 L433.40 301.31 L433.84 299.81 L434.29 298.30 L434.74 296.79 L435.20 295.28 L435.67 293.77 L436.14 292.27 L436.61 290.77 L437.10 289.26 L437.59 287.77 L438.09 286.27 L438.60 284.78 L439.11 283.29 L439.63 281.81 L440.17 280.33 L440.71 278.86 L441.26 277.39 L441.82 275.93 L442.40 274.47 L442.98 273.03 L443.57 271.59 L444.18 270.16 L444.79 268.73 L445.42 267.32 L446.06 265.91 L446.72 264.52 L447.38 263.13 L448.06 261.75 L448.76 260.39 L449.47 259.04 L450.19 257.69 L450.92 256.36 L451.67 255.05 L452.44 253.74 L453.22 252.45 L454.02 251.18 L454.84 249.92 L455.67 248.67 L456.51 247.44 L457.38 246.22 L458.26 245.02 L459.16 243.83 L460.08 242.67 L461.02 241.52 L461.98 240.39 L462.95 239.27 L463.95 238.18 L464.96 237.10 L466.00 236.04 L467.05 235.01 L468.13 233.99 L469.23 233.00 L470.35 232.02 L471.49 231.07 L472.65 230.14 L473.84 229.23 L475.05 228.34 L476.28 227.48 L477.53 226.65 L478.81 225.85 L480.10 225.08 L481.42 224.34 L482.75 223.64 L484.11 222.98 L485.48 222.36 L486.86 221.78 L488.27 221.25 L489.68 220.77 L491.12 220.34 L492.57 219.96 L494.03 219.64 L495.50 219.37 L496.99 219.15 L498.48 218.97 L499.98 218.84 L501.49 218.74 L503.01 218.69 L504.53 218.67 L506.06 218.69 L507.59 218.73 L509.12 218.80 L510.66 218.90 L512.20 219.02 L513.74 219.15 L515.28 219.30 L516.82 219.46 L518.36 219.62 L519.91 219.79 L521.45 219.96 L522.99 220.13 L524.53 220.29 L526.06 220.44 L527.60 220.58 L529.13 220.70 L530.66 220.80 L532.18 220.88 L533.70 220.94 L535.21 220.96 L536.72 220.95 L538.22 220.91 L539.72 220.82 L541.21 220.69 L542.69 220.52 L544.17 220.30 L545.63 220.02 L547.09 219.70 L548.53 219.34 L549.97 218.92 L551.40 218.47 L552.81 217.97 L554.21 217.42 L555.60 216.84 L556.98 216.22 L558.34 215.55 L559.68 214.85 L561.01 214.12 L562.32 213.34 L563.62 212.54 L564.90 211.70 L566.16 210.82 L567.40 209.92 L568.62 208.99 L569.82 208.03 L571.00 207.04 L572.16 206.02 L573.30 204.98 L574.41 203.92 L575.50 202.83 L576.57 201.72 L577.61 200.59 L578.62 199.44 L579.00 198.99" fill="none" stroke="#FFC000" stroke-width="2.50" stroke-linecap="round" stroke-linejoin="round"/>
<path d="M421.70 341.70 L422.23 340.38 L422.75 339.06 L423.26 337.73 L423.77 336.40 L424.26 335.06 L424.76 333.72 L425.24 332.38 L425.73 331.03 L426.20 329.69 L426.68 328.34 L427.14 326.98 L427.61 325.63 L428.07 324.27 L428.53 322.92 L428.99 321.56 L429.44 320.20 L429.89 318.83 L430.35 317.47 L430.80 316.11 L431.25 314.75 L431.70 313.38 L432.16 312.02 L432.61 310.66 L433.07 309.30 L433.53 307.94 L433.99 306.58 L434.45 305.22 L434.92 303.86 L435.39 302.51 L435.87 301.16 L436.35 299.81 L436.83 298.46 L437.33 297.11 L437.82 295.77 L438.33 294.43 L438.84 293.10 L439.36 291.77 L439.88 290.44 L440.42 289.11 L440.96 287.79 L441.51 286.48 L442.07 285.17 L442.64 283.86 L443.23 282.56 L443.82 281.27 L444.42 279.98 L445.04 278.70 L445.67 277.42 L446.31 276.15 L446.96 274.88 L447.63 273.63 L448.31 272.38 L449.01 271.13 L449.72 269.90 L450.44 268.67 L451.19 267.45 L451.94 266.24 L452.72 265.03 L453.51 263.84 L454.32 262.65 L455.14 261.47 L455.99 260.31 L456.85 259.15 L457.73 258.00 L458.64 256.86 L459.56 255.73 L460.50 254.61 L461.47 253.51 L462.45 252.42 L463.45 251.34 L464.48 250.28 L465.52 249.24 L466.59 248.23 L467.67 247.24 L468.78 246.28 L469.90 245.35 L471.04 244.46 L472.20 243.60 L473.38 242.78 L474.57 242.00 L475.79 241.27 L477.02 240.58 L478.27 239.93 L479.54 239.34 L480.82 238.80 L482.12 238.32 L483.44 237.88 L484.76 237.49 L486.11 237.14 L487.46 236.85 L488.82 236.59 L490.20 236.38 L491.58 236.21 L492.97 236.08 L494.36 235.98 L495.76 235.93 L497.17 235.90 L498.57 235.91 L499.98 235.96 L501.39 236.03 L502.81 236.13 L504.22 236.26 L505.63 236.40 L507.04 236.56 L508.46 236.74 L509.88 236.91 L511.30 237.10 L512.72 237.29 L514.14 237.49 L515.56 237.68 L516.99 237.88 L518.41 238.07 L519.84 238.25 L521.26 238.43 L522.68 238.61 L524.10 238.77 L525.52 238.92 L526.94 239.05 L528.36 239.17 L529.78 239.27 L531.19 239.36 L532.60 239.42 L534.01 239.45 L535.41 239.46 L536.82 239.45 L538.21 239.40 L539.61 239.33 L541.00 239.22 L542.38 239.07 L543.76 238.89 L545.14 238.67 L546.51 238.41 L547.87 238.11 L549.23 237.76 L550.58 237.37 L551.92 236.93 L553.26 236.44 L554.59 235.90 L555.92 235.32 L557.23 234.70 L558.53 234.04 L559.83 233.35 L561.11 232.62 L562.38 231.86 L563.64 231.08 L564.88 230.27 L566.12 229.44 L567.34 228.59 L568.54 227.73 L569.73 226.85 L570.90 225.97 L572.05 225.07 L573.19 224.17 L574.31 223.28 L575.41 222.38 L576.49 221.48 L577.55 220.60 L578.59 219.72 L579.00 219.37" fill="none" stroke="#5B9BD5" stroke-width="2.50" stroke-linecap="round" stroke-linejoin="round"/>
<path d="M421.70 341.70 L422.13 340.11 L422.56 338.52 L422.98 336.92 L423.40 335.32 L423.82 333.72 L424.23 332.12 L424.63 330.51 L425.04 328.91 L425.44 327.30 L425.83 325.69 L426.23 324.08 L426.62 322.47 L427.01 320.85 L427.40 319.24 L427.79 317.62 L428.18 316.00 L428.57 314.39 L428.95 312.77 L429.34 311.15 L429.73 309.53 L430.11 307.91 L430.50 306.29 L430.89 304.67 L431.28 303.05 L431.67 301.43 L432.06 299.81 L432.46 298.19 L432.86 296.57 L433.26 294.96 L433.67 293.34 L434.07 291.72 L434.49 290.11 L434.90 288.49 L435.32 286.88 L435.75 285.27 L436.17 283.66 L436.61 282.05 L437.05 280.45 L437.49 278.84 L437.95 277.24 L438.40 275.64 L438.87 274.04 L439.34 272.45 L439.82 270.85 L440.31 269.26 L440.80 267.67 L441.30 266.09 L441.81 264.51 L442.33 262.93 L442.86 261.35 L443.39 259.78 L443.94 258.21 L444.50 256.64 L445.06 255.08 L445.64 253.52 L446.23 251.97 L446.83 250.42 L447.44 248.87 L448.06 247.33 L448.69 245.79 L449.34 244.26 L449.99 242.73 L450.66 241.21 L451.35 239.69 L452.04 238.18 L452.75 236.67 L453.48 235.17 L454.22 233.67 L454.97 232.17 L455.74 230.69 L456.52 229.21 L457.32 227.73 L458.13 226.26 L458.96 224.80 L459.81 223.34 L460.67 221.89 L461.55 220.45 L462.44 219.01 L463.36 217.58 L464.29 216.15 L465.24 214.74 L466.20 213.33 L467.19 211.94 L468.20 210.57 L469.23 209.22 L470.28 207.89 L471.35 206.59 L472.45 205.32 L473.56 204.08 L474.71 202.87 L475.88 201.71 L477.07 200.58 L478.29 199.50 L479.54 198.46 L480.82 197.48 L482.12 196.55 L483.45 195.67 L484.82 194.86 L486.21 194.11 L487.63 193.42 L489.09 192.79 L490.57 192.23 L492.08 191.73 L493.61 191.29 L495.16 190.91 L496.73 190.59 L498.32 190.33 L499.92 190.13 L501.54 189.98 L503.17 189.88 L504.80 189.84 L506.45 189.84 L508.11 189.89 L509.78 189.97 L511.45 190.09 L513.13 190.23 L514.82 190.40 L516.51 190.60 L518.20 190.81 L519.90 191.03 L521.60 191.26 L523.30 191.50 L525.00 191.73 L526.70 191.96 L528.39 192.19 L530.09 192.40 L531.78 192.59 L533.47 192.77 L535.16 192.91 L536.83 193.03 L538.51 193.12 L540.17 193.17 L541.83 193.18 L543.47 193.14 L545.11 193.05 L546.74 192.91 L548.35 192.73 L549.95 192.49 L551.54 192.20 L553.12 191.87 L554.68 191.48 L556.23 191.04 L557.76 190.55 L559.28 190.00 L560.78 189.41 L562.26 188.76 L563.72 188.06 L565.17 187.31 L566.59 186.51 L568.00 185.65 L569.38 184.74 L570.74 183.77 L572.08 182.75 L573.40 181.68 L574.69 180.55 L575.96 179.37 L577.21 178.13 L578.42 176.84 L579.00 176.19" fill="none" stroke="#70AD47" stroke-width="2.50" stroke-linecap="round" stroke-linejoin="round"/>
<path d="M421.70 341.70 L422.10 340.34 L422.51 338.98 L422.92 337.61 L423.33 336.24 L423.74 334.86 L424.16 333.48 L424.59 332.09 L425.01 330.70 L425.44 329.31 L425.88 327.91 L426.31 326.50 L426.76 325.10 L427.20 323.69 L427.65 322.28 L428.11 320.86 L428.57 319.44 L429.03 318.02 L429.50 316.60 L429.98 315.18 L430.45 313.75 L430.94 312.33 L431.43 310.90 L431.92 309.47 L432.42 308.04 L432.93 306.61 L433.44 305.18 L433.96 303.75 L434.48 302.32 L435.01 300.89 L435.54 299.47 L436.08 298.04 L436.63 296.61 L437.18 295.19 L437.74 293.76 L438.31 292.34 L438.88 290.92 L439.46 289.50 L440.05 288.09 L440.64 286.68 L441.24 285.27 L441.85 283.86 L442.47 282.46 L443.09 281.06 L443.72 279.66 L444.36 278.27 L445.01 276.88 L445.66 275.50 L446.32 274.12 L446.99 272.75 L447.67 271.38 L448.36 270.02 L449.05 268.66 L449.76 267.31 L450.47 265.96 L451.19 264.62 L451.92 263.29 L452.66 261.96 L453.41 260.65 L454.16 259.33 L454.93 258.03 L455.70 256.73 L456.49 255.44 L457.28 254.16 L458.09 252.89 L458.90 251.63 L459.73 250.37 L460.56 249.12 L461.41 247.89 L462.26 246.66 L463.13 245.44 L464.00 244.23 L464.89 243.03 L465.78 241.84 L466.69 240.67 L467.61 239.50 L468.54 238.34 L469.48 237.20 L470.43 236.07 L471.39 234.94 L472.37 233.83 L473.36 232.74 L474.35 231.65 L475.36 230.58 L476.38 229.52 L477.42 228.47 L478.46 227.44 L479.52 226.42 L480.59 225.41 L481.67 224.42 L482.77 223.44 L483.87 222.47 L484.99 221.52 L486.13 220.59 L487.27 219.67 L488.43 218.76 L489.60 217.87 L490.79 217.00 L491.99 216.14 L493.20 215.30 L494.43 214.47 L495.67 213.66 L496.92 212.87 L498.19 212.10 L499.47 211.34 L500.76 210.60 L502.07 209.88 L503.40 209.17 L504.73 208.48 L506.09 207.82 L507.45 207.17 L508.83 206.54 L510.23 205.94 L511.63 205.37 L513.04 204.83 L514.47 204.32 L515.91 203.84 L517.35 203.41 L518.80 203.01 L520.26 202.65 L521.73 202.33 L523.20 202.06 L524.68 201.84 L526.16 201.67 L527.65 201.54 L529.14 201.45 L530.64 201.40 L532.13 201.37 L533.63 201.37 L535.13 201.38 L536.64 201.40 L538.14 201.42 L539.64 201.45 L541.15 201.47 L542.65 201.48 L544.15 201.47 L545.65 201.44 L547.15 201.39 L548.64 201.33 L550.14 201.25 L551.63 201.15 L553.13 201.03 L554.62 200.90 L556.10 200.75 L557.59 200.58 L559.08 200.40 L560.56 200.19 L562.04 199.97 L563.52 199.74 L564.99 199.49 L566.47 199.22 L567.94 198.93 L569.41 198.63 L570.87 198.32 L572.34 197.99 L573.80 197.64 L575.26 197.27 L576.71 196.90 L578.16 196.50 L579.00 196.26" fill="none" stroke="#264478" stroke-width="2.50" stroke-linecap="round" stroke-linejoin="round"/>
<path d="M421.70 341.70 L422.14 340.28 L422.59 338.85 L423.03 337.41 L423.47 335.98 L423.92 334.54 L424.36 333.10 L424.80 331.65 L425.24 330.21 L425.69 328.76 L426.13 327.30 L426.58 325.85 L427.02 324.39 L427.47 322.93 L427.92 321.47 L428.37 320.01 L428.82 318.55 L429.28 317.08 L429.74 315.61 L430.20 314.15 L430.66 312.68 L431.12 311.21 L431.59 309.74 L432.06 308.27 L432.54 306.80 L433.02 305.33 L433.50 303.86 L433.98 302.39 L434.47 300.92 L434.97 299.45 L435.47 297.99 L435.97 296.52 L436.48 295.05 L436.99 293.59 L437.51 292.13 L438.04 290.67 L438.57 289.21 L439.10 287.75 L439.65 286.29 L440.19 284.84 L440.75 283.39 L441.31 281.94 L441.88 280.50 L442.45 279.05 L443.03 277.62 L443.62 276.18 L444.22 274.75 L444.83 273.32 L445.44 271.89 L446.06 270.47 L446.69 269.05 L447.32 267.64 L447.97 266.23 L448.63 264.83 L449.29 263.43 L449.96 262.03 L450.64 260.64 L451.34 259.26 L452.04 257.88 L452.75 256.51 L453.47 255.14 L454.20 253.78 L454.95 252.42 L455.70 251.07 L456.46 249.73 L457.24 248.39 L458.02 247.06 L458.82 245.74 L459.63 244.42 L460.45 243.11 L461.29 241.81 L462.13 240.51 L462.99 239.23 L463.86 237.95 L464.74 236.68 L465.64 235.41 L466.55 234.16 L467.47 232.91 L468.41 231.68 L469.36 230.45 L470.32 229.23 L471.30 228.02 L472.29 226.83 L473.29 225.64 L474.31 224.47 L475.34 223.32 L476.38 222.17 L477.44 221.05 L478.51 219.93 L479.59 218.84 L480.69 217.76 L481.80 216.70 L482.93 215.66 L484.07 214.63 L485.22 213.63 L486.38 212.64 L487.56 211.68 L488.75 210.74 L489.96 209.82 L491.18 208.93 L492.41 208.06 L493.66 207.21 L494.92 206.39 L496.20 205.59 L497.48 204.82 L498.79 204.08 L500.10 203.37 L501.43 202.68 L502.77 202.03 L504.13 201.40 L505.50 200.81 L506.88 200.24 L508.28 199.71 L509.68 199.20 L511.11 198.72 L512.54 198.27 L513.98 197.84 L515.43 197.44 L516.90 197.07 L518.37 196.71 L519.85 196.38 L521.34 196.07 L522.84 195.77 L524.35 195.50 L525.86 195.24 L527.38 195.00 L528.91 194.78 L530.44 194.57 L531.98 194.38 L533.52 194.20 L535.07 194.03 L536.62 193.87 L538.18 193.72 L539.73 193.58 L541.29 193.44 L542.85 193.32 L544.41 193.20 L545.98 193.08 L547.54 192.97 L549.11 192.86 L550.67 192.76 L552.23 192.65 L553.79 192.54 L555.35 192.44 L556.90 192.33 L558.46 192.22 L560.01 192.10 L561.55 191.98 L563.09 191.85 L564.63 191.72 L566.16 191.57 L567.68 191.42 L569.20 191.26 L570.71 191.09 L572.22 190.90 L573.71 190.71 L575.20 190.49 L576.68 190.27 L578.15 190.03 L579.00 189.87" fill="none" stroke="#9E480E" stroke-width="2.50" stroke-linecap="round" stroke-linejoin="round"/>
<path d="M421.70 341.70 L422.02 339.85 L422.33 338.00 L422.65 336.15 L422.96 334.30 L423.27 332.45 L423.59 330.61 L423.90 328.76 L424.22 326.92 L424.53 325.08 L424.85 323.24 L425.17 321.40 L425.49 319.56 L425.81 317.73 L426.13 315.89 L426.45 314.06 L426.78 312.23 L427.11 310.40 L427.44 308.57 L427.77 306.74 L428.10 304.92 L428.44 303.10 L428.78 301.27 L429.13 299.45 L429.48 297.63 L429.83 295.81 L430.19 294.00 L430.55 292.18 L430.91 290.37 L431.28 288.56 L431.66 286.75 L432.04 284.94 L432.42 283.13 L432.82 281.32 L433.21 279.52 L433.61 277.72 L434.02 275.92 L434.44 274.12 L434.86 272.32 L435.28 270.52 L435.72 268.73 L436.16 266.93 L436.61 265.14 L437.06 263.35 L437.53 261.56 L438.00 259.77 L438.48 257.99 L438.96 256.20 L439.46 254.42 L439.97 252.64 L440.48 250.86 L441.00 249.08 L441.53 247.30 L442.07 245.53 L442.62 243.75 L443.18 241.98 L443.75 240.21 L444.34 238.44 L444.93 236.67 L445.53 234.91 L446.14 233.15 L446.76 231.38 L447.40 229.62 L448.04 227.86 L448.70 226.11 L449.37 224.35 L450.05 222.59 L450.75 220.84 L451.45 219.09 L452.17 217.34 L452.90 215.59 L453.65 213.85 L454.41 212.10 L455.18 210.36 L455.96 208.62 L456.76 206.88 L457.57 205.14 L458.40 203.41 L459.25 201.69 L460.13 199.99 L461.03 198.31 L461.97 196.67 L462.94 195.06 L463.95 193.51 L465.01 192.00 L466.12 190.55 L467.28 189.17 L468.49 187.86 L469.77 186.63 L471.12 185.49 L472.53 184.44 L474.02 183.49 L475.57 182.64 L477.17 181.90 L478.83 181.27 L480.54 180.76 L482.28 180.37 L484.05 180.10 L485.84 179.93 L487.66 179.88 L489.49 179.92 L491.33 180.07 L493.17 180.30 L495.01 180.63 L496.84 181.05 L498.66 181.54 L500.47 182.11 L502.27 182.74 L504.06 183.42 L505.85 184.15 L507.63 184.92 L509.40 185.72 L511.16 186.55 L512.92 187.39 L514.67 188.24 L516.42 189.09 L518.16 189.94 L519.90 190.77 L521.63 191.57 L523.37 192.34 L525.09 193.08 L526.82 193.76 L528.54 194.39 L530.26 194.96 L531.98 195.46 L533.69 195.88 L535.41 196.21 L537.13 196.45 L538.84 196.59 L540.56 196.61 L542.28 196.52 L544.00 196.30 L545.72 195.96 L547.43 195.50 L549.13 194.94 L550.82 194.26 L552.50 193.49 L554.15 192.62 L555.78 191.66 L557.39 190.62 L558.96 189.50 L560.49 188.31 L561.99 187.05 L563.45 185.73 L564.86 184.35 L566.22 182.92 L567.53 181.45 L568.78 179.94 L569.97 178.39 L571.10 176.82 L572.16 175.22 L573.16 173.61 L574.11 171.98 L575.01 170.34 L575.86 168.70 L576.67 167.06 L577.45 165.42 L578.19 163.80 L578.91 162.19 L579.00 161.97" fill="none" stroke="#636363" stroke-width="2.50" stroke-linecap="round" stroke-linejoin="round"/>
<path d="M421.70 341.70 L422.21 340.38 L422.72 339.06 L423.22 337.73 L423.72 336.40 L424.22 335.07 L424.72 333.73 L425.21 332.39 L425.70 331.05 L426.19 329.71 L426.68 328.36 L427.17 327.01 L427.66 325.66 L428.15 324.31 L428.64 322.95 L429.12 321.60 L429.61 320.24 L430.10 318.88 L430.59 317.52 L431.08 316.16 L431.58 314.81 L432.07 313.45 L432.57 312.09 L433.07 310.73 L433.57 309.37 L434.08 308.02 L434.59 306.66 L435.11 305.31 L435.62 303.96 L436.15 302.61 L436.67 301.26 L437.20 299.92 L437.74 298.57 L438.28 297.23 L438.83 295.90 L439.39 294.56 L439.95 293.23 L440.52 291.90 L441.09 290.58 L441.67 289.26 L442.26 287.95 L442.86 286.64 L443.46 285.33 L444.08 284.03 L444.70 282.74 L445.33 281.45 L445.97 280.17 L446.62 278.89 L447.28 277.62 L447.95 276.35 L448.64 275.09 L449.33 273.84 L450.03 272.60 L450.74 271.36 L451.47 270.13 L452.21 268.91 L452.96 267.69 L453.72 266.48 L454.50 265.29 L455.29 264.10 L456.09 262.92 L456.90 261.74 L457.73 260.58 L458.58 259.43 L459.43 258.29 L460.31 257.15 L461.20 256.03 L462.10 254.92 L463.02 253.81 L463.95 252.72 L464.90 251.64 L465.87 250.58 L466.85 249.52 L467.84 248.48 L468.85 247.45 L469.87 246.43 L470.91 245.43 L471.96 244.44 L473.02 243.46 L474.10 242.50 L475.19 241.56 L476.29 240.63 L477.40 239.72 L478.53 238.83 L479.67 237.95 L480.82 237.08 L481.98 236.24 L483.15 235.42 L484.33 234.61 L485.53 233.82 L486.73 233.05 L487.94 232.29 L489.17 231.56 L490.40 230.84 L491.65 230.15 L492.90 229.47 L494.17 228.81 L495.44 228.17 L496.72 227.56 L498.01 226.96 L499.31 226.38 L500.62 225.82 L501.93 225.29 L503.26 224.77 L504.59 224.28 L505.93 223.80 L507.27 223.35 L508.63 222.92 L509.99 222.51 L511.35 222.12 L512.72 221.74 L514.10 221.39 L515.48 221.04 L516.87 220.71 L518.26 220.40 L519.66 220.09 L521.06 219.79 L522.46 219.50 L523.86 219.22 L525.27 218.95 L526.68 218.68 L528.09 218.42 L529.50 218.15 L530.92 217.89 L532.33 217.63 L533.74 217.37 L535.16 217.10 L536.57 216.84 L537.98 216.56 L539.39 216.28 L540.80 216.00 L542.20 215.70 L543.60 215.39 L545.00 215.08 L546.40 214.75 L547.79 214.41 L549.18 214.06 L550.57 213.70 L551.95 213.32 L553.32 212.93 L554.70 212.52 L556.06 212.10 L557.43 211.66 L558.78 211.21 L560.14 210.74 L561.48 210.26 L562.82 209.75 L564.16 209.23 L565.49 208.69 L566.81 208.13 L568.12 207.55 L569.43 206.96 L570.73 206.33 L572.02 205.69 L573.31 205.03 L574.59 204.34 L575.85 203.63 L577.12 202.90 L578.37 202.15 L579.00 201.75" fill="none" stroke="#997300" stroke-width="2.50" stroke-linecap="round" stroke-linejoin="round"/>
<text x="403.60" y="347.80" font-size="17.20" font-weight="bold" fill="#595959" text-anchor="end" textLength="9.65" lengthAdjust="spacingAndGlyphs">0</text>
<text x="403.60" y="315.63" font-size="17.20" font-weight="bold" fill="#595959" text-anchor="end" textLength="19.30" lengthAdjust="spacingAndGlyphs">20</text>
<text x="403.60" y="283.46" font-size="17.20" font-weight="bold" fill="#595959" text-anchor="end" textLength="19.30" lengthAdjust="spacingAndGlyphs">40</text>
<text x="403.60" y="251.29" font-size="17.20" font-weight="bold" fill="#595959" text-anchor="end" textLength="19.30" lengthAdjust="spacingAndGlyphs">60</text>
<text x="403.60" y="219.12" font-size="17.20" font-weight="bold" fill="#595959" text-anchor="end" textLength="19.30" lengthAdjust="spacingAndGlyphs">80</text>
<text x="403.60" y="186.95" font-size="17.20" font-weight="bold" fill="#595959" text-anchor="end" textLength="28.95" lengthAdjust="spacingAndGlyphs">100</text>
<text x="403.60" y="154.78" font-size="17.20" font-weight="bold" fill="#595959" text-anchor="end" textLength="28.95" lengthAdjust="spacingAndGlyphs">120</text>
<text x="403.60" y="122.61" font-size="17.20" font-weight="bold" fill="#595959" text-anchor="end" textLength="28.95" lengthAdjust="spacingAndGlyphs">140</text>
<text x="403.60" y="90.44" font-size="17.20" font-weight="bold" fill="#595959" text-anchor="end" textLength="28.95" lengthAdjust="spacingAndGlyphs">160</text>
<text x="403.60" y="58.27" font-size="17.20" font-weight="bold" fill="#595959" text-anchor="end" textLength="28.95" lengthAdjust="spacingAndGlyphs">180</text>
<text x="403.60" y="26.10" font-size="17.20" font-weight="bold" fill="#595959" text-anchor="end" textLength="28.95" lengthAdjust="spacingAndGlyphs">200</text>
<text transform="rotate(0.05 421.70 369.60)" x="421.70" y="369.60" font-size="15.90" font-weight="bold" fill="#595959" text-anchor="middle" textLength="9.45" lengthAdjust="spacingAndGlyphs">0</text>
<text transform="rotate(0.05 475.68 369.60)" x="475.68" y="369.60" font-size="15.90" font-weight="bold" fill="#595959" text-anchor="middle" textLength="32.95" lengthAdjust="spacingAndGlyphs">0.05</text>
<text transform="rotate(0.05 529.65 369.60)" x="529.65" y="369.60" font-size="15.90" font-weight="bold" fill="#595959" text-anchor="middle" textLength="23.50" lengthAdjust="spacingAndGlyphs">0.1</text>
<text transform="rotate(0.05 583.62 369.60)" x="583.62" y="369.60" font-size="15.90" font-weight="bold" fill="#595959" text-anchor="middle" textLength="32.95" lengthAdjust="spacingAndGlyphs">0.15</text>
<text transform="rotate(0.05 637.60 369.60)" x="637.60" y="369.60" font-size="15.90" font-weight="bold" fill="#595959" text-anchor="middle" textLength="23.50" lengthAdjust="spacingAndGlyphs">0.2</text>
<text x="469.20" y="386.80" font-size="14.4" font-weight="bold" fill="#595959" textLength="120.80" lengthAdjust="spacingAndGlyphs">Strain (mm/mm)</text>
<text transform="translate(375.40 222.90) rotate(-90)" font-size="16.00" font-weight="bold" fill="#595959" textLength="84.00" lengthAdjust="spacingAndGlyphs">Stress (MPa)</text>
<line x1="613.70" y1="74.80" x2="644.50" y2="74.80" stroke="#4472C4" stroke-width="2.4" stroke-linecap="round"/>
<text x="648.30" y="79.50" font-size="14.4" font-weight="bold" fill="#595959">Test 1</text>
<line x1="613.70" y1="101.89" x2="644.50" y2="101.89" stroke="#ED7D31" stroke-width="2.4" stroke-linecap="round"/>
<text x="648.30" y="106.59" font-size="14.4" font-weight="bold" fill="#595959">Test 2</text>
<line x1="613.70" y1="128.98" x2="644.50" y2="128.98" stroke="#A5A5A5" stroke-width="2.4" stroke-linecap="round"/>
<text x="648.30" y="133.68" font-size="14.4" font-weight="bold" fill="#595959">Test 3</text>
<line x1="613.70" y1="156.07" x2="644.50" y2="156.07" stroke="#FFC000" stroke-width="2.4" stroke-linecap="round"/>
<text x="648.30" y="160.77" font-size="14.4" font-weight="bold" fill="#595959">Test 4</text>
<line x1="613.70" y1="183.16" x2="644.50" y2="183.16" stroke="#5B9BD5" stroke-width="2.4" stroke-linecap="round"/>
<text x="648.30" y="187.86" font-size="14.4" font-weight="bold" fill="#595959">Test 5</text>
<line x1="613.70" y1="210.25" x2="644.50" y2="210.25" stroke="#70AD47" stroke-width="2.4" stroke-linecap="round"/>
<text x="648.30" y="214.95" font-size="14.4" font-weight="bold" fill="#595959">Test 6</text>
<line x1="613.70" y1="237.34" x2="644.50" y2="237.34" stroke="#264478" stroke-width="2.4" stroke-linecap="round"/>
<text x="648.30" y="242.04" font-size="14.4" font-weight="bold" fill="#595959">Test 7</text>
<line x1="613.70" y1="264.43" x2="644.50" y2="264.43" stroke="#9E480E" stroke-width="2.4" stroke-linecap="round"/>
<text x="648.30" y="269.13" font-size="14.4" font-weight="bold" fill="#595959">Test 8</text>
<line x1="613.70" y1="291.52" x2="644.50" y2="291.52" stroke="#636363" stroke-width="2.4" stroke-linecap="round"/>
<text x="648.30" y="296.22" font-size="14.4" font-weight="bold" fill="#595959">Test 9</text>
<line x1="613.70" y1="318.61" x2="644.50" y2="318.61" stroke="#997300" stroke-width="2.4" stroke-linecap="round"/>
<text x="648.30" y="323.31" font-size="14.4" font-weight="bold" fill="#595959">Test 10</text>
<path d="M520.30 417.20 H517.55 V432.40 H520.30 M532.90 417.20 H535.65 V432.40 H532.90" fill="none" stroke="#000" stroke-width="1.4"/>
<text x="521.60" y="430.00" font-size="17" fill="#000" textLength="10.20" lengthAdjust="spacingAndGlyphs">B</text>
<path d="M260.00 472.90 V770.60 H449.40" fill="none" stroke="#000" stroke-width="2.40" stroke-linejoin="round"/>
<path d="M260.00 770.60 L260.34 769.42 L260.67 768.25 L260.99 767.07 L261.32 765.88 L261.64 764.70 L261.96 763.51 L262.28 762.32 L262.59 761.12 L262.91 759.93 L263.22 758.73 L263.53 757.53 L263.84 756.33 L264.16 755.13 L264.47 753.93 L264.78 752.72 L265.09 751.52 L265.41 750.31 L265.73 749.11 L266.04 747.90 L266.37 746.69 L266.69 745.48 L267.02 744.27 L267.35 743.07 L267.68 741.86 L268.02 740.65 L268.36 739.45 L268.71 738.24 L269.06 737.03 L269.41 735.83 L269.78 734.63 L270.15 733.42 L270.52 732.22 L270.91 731.02 L271.29 729.83 L271.69 728.63 L272.10 727.43 L272.51 726.24 L272.93 725.05 L273.36 723.87 L273.80 722.68 L274.25 721.50 L274.71 720.32 L275.18 719.14 L275.66 717.97 L276.15 716.80 L276.65 715.63 L277.16 714.47 L277.69 713.31 L278.22 712.15 L278.77 711.00 L279.34 709.86 L279.91 708.71 L280.50 707.57 L281.11 706.44 L281.72 705.31 L282.36 704.19 L283.00 703.07 L283.67 701.96 L284.34 700.87 L285.04 699.78 L285.75 698.71 L286.47 697.65 L287.22 696.61 L287.98 695.59 L288.75 694.58 L289.55 693.60 L290.36 692.64 L291.19 691.70 L292.04 690.79 L292.90 689.91 L293.79 689.05 L294.69 688.22 L295.62 687.43 L296.56 686.66 L297.52 685.93 L298.50 685.24 L299.51 684.57 L300.53 683.95 L301.56 683.35 L302.62 682.79 L303.69 682.26 L304.78 681.76 L305.88 681.30 L306.99 680.86 L308.12 680.46 L309.26 680.09 L310.41 679.75 L311.58 679.43 L312.75 679.15 L313.94 678.90 L315.13 678.67 L316.34 678.47 L317.55 678.30 L318.76 678.16 L319.99 678.05 L321.22 677.96 L322.45 677.90 L323.69 677.86 L324.93 677.85 L326.18 677.87 L327.42 677.91 L328.67 677.97 L329.92 678.06 L331.17 678.17 L332.42 678.30 L333.67 678.46 L334.92 678.64 L336.16 678.84 L337.41 679.05 L338.65 679.28 L339.90 679.53 L341.14 679.79 L342.38 680.06 L343.62 680.34 L344.86 680.63 L346.10 680.93 L347.34 681.24 L348.58 681.55 L349.82 681.87 L351.05 682.18 L352.29 682.50 L353.52 682.82 L354.75 683.13 L355.98 683.44 L357.21 683.75 L358.44 684.05 L359.67 684.34 L360.90 684.62 L362.13 684.90 L363.35 685.16 L364.58 685.40 L365.80 685.64 L367.03 685.85 L368.25 686.05 L369.47 686.23 L370.69 686.38 L371.91 686.52 L373.12 686.63 L374.34 686.72 L375.56 686.78 L376.77 686.81 L377.98 686.81 L379.20 686.79 L380.41 686.73 L381.62 686.63 L382.83 686.51 L384.03 686.34 L385.24 686.14 L386.45 685.90 L387.65 685.62 L388.85 685.29 L390.06 684.93 L391.26 684.51 L392.46 684.06 L393.65 683.55 L394.85 682.99 L396.05 682.39 L397.24 681.73 L397.90 681.34" fill="none" stroke="#4472C4" stroke-width="2.50" stroke-linecap="round" stroke-linejoin="round"/>
<path d="M260.00 770.60 L260.26 769.53 L260.53 768.46 L260.81 767.39 L261.09 766.31 L261.39 765.24 L261.69 764.16 L262.00 763.08 L262.33 762.00 L262.66 760.93 L263.00 759.85 L263.35 758.77 L263.70 757.70 L264.07 756.62 L264.45 755.55 L264.83 754.47 L265.23 753.40 L265.63 752.33 L266.05 751.27 L266.47 750.20 L266.90 749.14 L267.35 748.08 L267.80 747.03 L268.26 745.98 L268.73 744.93 L269.21 743.89 L269.70 742.85 L270.20 741.82 L270.71 740.79 L271.23 739.77 L271.76 738.76 L272.30 737.75 L272.84 736.74 L273.40 735.75 L273.97 734.76 L274.55 733.77 L275.14 732.80 L275.74 731.83 L276.35 730.87 L276.96 729.92 L277.59 728.97 L278.23 728.04 L278.88 727.11 L279.54 726.20 L280.21 725.29 L280.89 724.40 L281.58 723.51 L282.28 722.64 L282.99 721.77 L283.72 720.92 L284.45 720.07 L285.19 719.24 L285.94 718.43 L286.71 717.62 L287.48 716.82 L288.27 716.04 L289.06 715.27 L289.87 714.52 L290.69 713.78 L291.52 713.05 L292.36 712.34 L293.21 711.64 L294.07 710.95 L294.94 710.28 L295.82 709.63 L296.72 708.99 L297.62 708.37 L298.54 707.76 L299.47 707.17 L300.41 706.60 L301.35 706.03 L302.31 705.49 L303.28 704.96 L304.25 704.44 L305.24 703.94 L306.23 703.46 L307.23 702.98 L308.24 702.53 L309.26 702.08 L310.29 701.65 L311.32 701.24 L312.36 700.83 L313.41 700.45 L314.46 700.07 L315.52 699.71 L316.59 699.36 L317.66 699.02 L318.73 698.70 L319.81 698.39 L320.90 698.09 L321.99 697.80 L323.09 697.52 L324.19 697.26 L325.29 697.01 L326.40 696.77 L327.51 696.54 L328.62 696.32 L329.73 696.12 L330.85 695.92 L331.97 695.74 L333.09 695.57 L334.21 695.40 L335.34 695.25 L336.47 695.10 L337.59 694.97 L338.72 694.84 L339.85 694.72 L340.98 694.60 L342.12 694.49 L343.25 694.39 L344.38 694.30 L345.52 694.20 L346.65 694.12 L347.79 694.03 L348.92 693.95 L350.06 693.88 L351.19 693.80 L352.33 693.73 L353.46 693.66 L354.60 693.59 L355.73 693.52 L356.87 693.45 L358.00 693.38 L359.13 693.30 L360.27 693.23 L361.40 693.15 L362.53 693.07 L363.65 692.99 L364.78 692.91 L365.91 692.81 L367.03 692.72 L368.15 692.62 L369.27 692.51 L370.39 692.40 L371.51 692.28 L372.62 692.15 L373.73 692.02 L374.84 691.88 L375.95 691.72 L377.06 691.56 L378.16 691.39 L379.26 691.21 L380.35 691.02 L381.45 690.81 L382.54 690.60 L383.62 690.37 L384.71 690.13 L385.79 689.87 L386.86 689.61 L387.93 689.32 L389.00 689.02 L390.07 688.71 L391.13 688.38 L392.18 688.03 L393.24 687.67 L394.28 687.29 L395.33 686.89 L396.37 686.47 L397.40 686.04 L397.90 685.81" fill="none" stroke="#ED7D31" stroke-width="2.50" stroke-linecap="round" stroke-linejoin="round"/>
<path d="M260.00 770.60 L260.28 769.43 L260.56 768.25 L260.84 767.07 L261.13 765.88 L261.41 764.69 L261.70 763.50 L261.99 762.30 L262.28 761.10 L262.58 759.89 L262.88 758.69 L263.18 757.48 L263.48 756.27 L263.79 755.05 L264.11 753.84 L264.42 752.62 L264.74 751.40 L265.07 750.18 L265.40 748.97 L265.73 747.75 L266.07 746.53 L266.42 745.31 L266.77 744.09 L267.12 742.88 L267.49 741.66 L267.86 740.45 L268.23 739.23 L268.61 738.02 L269.00 736.82 L269.40 735.61 L269.80 734.41 L270.21 733.21 L270.63 732.02 L271.06 730.83 L271.49 729.64 L271.93 728.46 L272.39 727.28 L272.85 726.11 L273.32 724.94 L273.79 723.78 L274.28 722.62 L274.78 721.47 L275.29 720.33 L275.81 719.19 L276.34 718.06 L276.87 716.94 L277.42 715.82 L277.99 714.72 L278.56 713.62 L279.14 712.53 L279.74 711.45 L280.34 710.37 L280.96 709.31 L281.59 708.26 L282.24 707.21 L282.90 706.18 L283.57 705.15 L284.25 704.14 L284.95 703.14 L285.66 702.15 L286.38 701.17 L287.12 700.20 L287.87 699.25 L288.64 698.31 L289.42 697.38 L290.22 696.46 L291.03 695.56 L291.86 694.67 L292.70 693.79 L293.56 692.93 L294.43 692.08 L295.32 691.25 L296.23 690.43 L297.15 689.63 L298.10 688.84 L299.05 688.07 L300.03 687.32 L301.02 686.58 L302.03 685.86 L303.05 685.15 L304.08 684.45 L305.13 683.77 L306.19 683.10 L307.26 682.44 L308.35 681.80 L309.44 681.17 L310.54 680.54 L311.65 679.93 L312.77 679.33 L313.89 678.74 L315.02 678.16 L316.15 677.59 L317.29 677.02 L318.43 676.47 L319.57 675.92 L320.72 675.38 L321.87 674.85 L323.02 674.32 L324.17 673.81 L325.33 673.31 L326.49 672.82 L327.66 672.34 L328.82 671.87 L329.99 671.41 L331.16 670.97 L332.34 670.54 L333.51 670.12 L334.69 669.72 L335.87 669.33 L337.06 668.95 L338.25 668.59 L339.44 668.25 L340.63 667.91 L341.82 667.59 L343.02 667.29 L344.22 666.99 L345.42 666.71 L346.62 666.44 L347.83 666.18 L349.04 665.93 L350.24 665.69 L351.46 665.47 L352.67 665.25 L353.88 665.04 L355.10 664.84 L356.32 664.65 L357.54 664.47 L358.76 664.29 L359.99 664.13 L361.21 663.97 L362.44 663.82 L363.67 663.67 L364.90 663.53 L366.13 663.40 L367.36 663.27 L368.59 663.15 L369.83 663.03 L371.06 662.92 L372.30 662.81 L373.54 662.70 L374.78 662.60 L376.02 662.50 L377.26 662.40 L378.50 662.31 L379.74 662.21 L380.98 662.12 L382.23 662.03 L383.47 661.94 L384.72 661.85 L385.96 661.76 L387.21 661.67 L388.45 661.58 L389.70 661.48 L390.95 661.39 L392.20 661.29 L393.44 661.20 L394.69 661.09 L395.94 660.99 L397.19 660.88 L397.90 660.82" fill="none" stroke="#A5A5A5" stroke-width="2.50" stroke-linecap="round" stroke-linejoin="round"/>
<path d="M260.00 770.60 L260.28 769.60 L260.57 768.58 L260.86 767.55 L261.16 766.51 L261.45 765.46 L261.75 764.40 L262.06 763.33 L262.37 762.24 L262.68 761.15 L262.99 760.05 L263.31 758.94 L263.64 757.82 L263.97 756.70 L264.31 755.57 L264.65 754.43 L264.99 753.29 L265.34 752.14 L265.70 750.99 L266.07 749.83 L266.44 748.67 L266.81 747.51 L267.19 746.34 L267.58 745.17 L267.98 744.01 L268.39 742.84 L268.80 741.67 L269.22 740.50 L269.64 739.33 L270.08 738.16 L270.52 736.99 L270.97 735.83 L271.43 734.67 L271.90 733.51 L272.38 732.36 L272.87 731.21 L273.36 730.07 L273.87 728.93 L274.38 727.80 L274.91 726.67 L275.45 725.55 L275.99 724.44 L276.55 723.34 L277.12 722.25 L277.69 721.16 L278.28 720.09 L278.89 719.02 L279.50 717.97 L280.12 716.93 L280.76 715.90 L281.41 714.88 L282.07 713.87 L282.74 712.88 L283.42 711.91 L284.12 710.94 L284.83 709.99 L285.56 709.06 L286.30 708.15 L287.05 707.25 L287.81 706.37 L288.59 705.50 L289.39 704.66 L290.20 703.83 L291.02 703.02 L291.86 702.24 L292.71 701.47 L293.58 700.72 L294.46 700.00 L295.36 699.30 L296.28 698.61 L297.20 697.96 L298.15 697.32 L299.11 696.70 L300.08 696.11 L301.06 695.54 L302.06 694.99 L303.07 694.46 L304.09 693.96 L305.12 693.47 L306.16 693.01 L307.22 692.57 L308.28 692.15 L309.35 691.75 L310.44 691.37 L311.53 691.02 L312.63 690.69 L313.74 690.38 L314.86 690.08 L315.98 689.82 L317.12 689.57 L318.25 689.34 L319.40 689.14 L320.55 688.95 L321.71 688.79 L322.87 688.65 L324.03 688.53 L325.20 688.43 L326.38 688.35 L327.55 688.30 L328.73 688.26 L329.92 688.25 L331.10 688.25 L332.29 688.28 L333.48 688.32 L334.67 688.38 L335.86 688.46 L337.05 688.55 L338.25 688.65 L339.45 688.77 L340.64 688.90 L341.84 689.04 L343.04 689.18 L344.24 689.34 L345.44 689.50 L346.64 689.67 L347.85 689.85 L349.05 690.02 L350.25 690.21 L351.45 690.39 L352.65 690.57 L353.85 690.75 L355.05 690.93 L356.24 691.11 L357.44 691.29 L358.63 691.46 L359.83 691.62 L361.02 691.77 L362.21 691.92 L363.40 692.06 L364.59 692.19 L365.77 692.31 L366.95 692.41 L368.13 692.50 L369.31 692.58 L370.48 692.64 L371.65 692.68 L372.82 692.71 L373.98 692.71 L375.14 692.70 L376.30 692.66 L377.45 692.61 L378.60 692.52 L379.75 692.42 L380.89 692.29 L382.02 692.13 L383.16 691.94 L384.28 691.73 L385.41 691.48 L386.52 691.21 L387.63 690.90 L388.74 690.56 L389.84 690.18 L390.94 689.77 L392.03 689.32 L393.11 688.83 L394.19 688.31 L395.26 687.74 L396.32 687.14 L397.38 686.49 L397.90 686.15" fill="none" stroke="#FFC000" stroke-width="2.50" stroke-linecap="round" stroke-linejoin="round"/>
<path d="M260.00 770.60 L260.35 769.70 L260.70 768.79 L261.04 767.85 L261.39 766.90 L261.73 765.93 L262.08 764.94 L262.42 763.94 L262.76 762.92 L263.10 761.89 L263.45 760.85 L263.79 759.79 L264.14 758.73 L264.49 757.65 L264.84 756.57 L265.19 755.48 L265.55 754.38 L265.91 753.27 L266.28 752.16 L266.65 751.04 L267.02 749.92 L267.40 748.80 L267.79 747.67 L268.18 746.55 L268.58 745.42 L268.99 744.29 L269.40 743.17 L269.82 742.04 L270.25 740.92 L270.68 739.81 L271.13 738.70 L271.58 737.59 L272.05 736.49 L272.52 735.40 L273.00 734.32 L273.50 733.24 L274.01 732.18 L274.52 731.12 L275.05 730.08 L275.60 729.05 L276.15 728.04 L276.72 727.04 L277.30 726.05 L277.90 725.08 L278.51 724.13 L279.14 723.20 L279.78 722.28 L280.43 721.39 L281.11 720.51 L281.79 719.66 L282.50 718.82 L283.22 718.02 L283.96 717.23 L284.72 716.47 L285.50 715.74 L286.29 715.03 L287.11 714.35 L287.94 713.70 L288.79 713.08 L289.66 712.48 L290.55 711.91 L291.46 711.37 L292.38 710.86 L293.31 710.37 L294.27 709.91 L295.23 709.47 L296.21 709.06 L297.20 708.67 L298.21 708.31 L299.22 707.97 L300.25 707.66 L301.28 707.37 L302.33 707.10 L303.38 706.86 L304.44 706.64 L305.51 706.44 L306.59 706.26 L307.67 706.10 L308.76 705.96 L309.86 705.83 L310.96 705.72 L312.07 705.63 L313.18 705.55 L314.29 705.48 L315.42 705.42 L316.54 705.38 L317.67 705.34 L318.80 705.31 L319.94 705.29 L321.08 705.27 L322.22 705.25 L323.36 705.24 L324.51 705.23 L325.65 705.22 L326.80 705.22 L327.95 705.20 L329.10 705.19 L330.25 705.17 L331.40 705.15 L332.55 705.12 L333.70 705.09 L334.84 705.04 L335.99 704.98 L337.13 704.92 L338.28 704.84 L339.41 704.75 L340.55 704.64 L341.69 704.52 L342.82 704.39 L343.95 704.24 L345.07 704.08 L346.19 703.91 L347.31 703.73 L348.43 703.54 L349.55 703.34 L350.66 703.14 L351.77 702.93 L352.88 702.71 L353.99 702.50 L355.09 702.28 L356.20 702.06 L357.30 701.83 L358.39 701.61 L359.49 701.40 L360.59 701.18 L361.68 700.97 L362.77 700.76 L363.86 700.56 L364.95 700.37 L366.04 700.19 L367.13 700.01 L368.22 699.85 L369.30 699.69 L370.38 699.55 L371.47 699.43 L372.55 699.31 L373.63 699.22 L374.71 699.14 L375.79 699.07 L376.87 699.03 L377.95 699.01 L379.03 699.01 L380.10 699.03 L381.18 699.07 L382.26 699.14 L383.34 699.23 L384.41 699.35 L385.49 699.49 L386.57 699.67 L387.65 699.87 L388.72 700.11 L389.80 700.38 L390.88 700.68 L391.96 701.01 L393.04 701.38 L394.12 701.78 L395.20 702.22 L396.28 702.70 L397.36 703.22 L397.90 703.50" fill="none" stroke="#5B9BD5" stroke-width="2.50" stroke-linecap="round" stroke-linejoin="round"/>
<path d="M260.00 770.60 L260.38 769.58 L260.76 768.54 L261.14 767.49 L261.51 766.43 L261.89 765.36 L262.26 764.27 L262.63 763.18 L263.00 762.07 L263.37 760.96 L263.74 759.83 L264.11 758.70 L264.48 757.56 L264.85 756.41 L265.23 755.26 L265.60 754.10 L265.98 752.93 L266.36 751.76 L266.75 750.59 L267.14 749.41 L267.53 748.23 L267.93 747.05 L268.33 745.86 L268.74 744.68 L269.16 743.49 L269.58 742.30 L270.00 741.12 L270.44 739.93 L270.88 738.75 L271.33 737.57 L271.79 736.39 L272.26 735.22 L272.73 734.05 L273.22 732.88 L273.71 731.72 L274.22 730.57 L274.73 729.42 L275.26 728.28 L275.80 727.15 L276.35 726.03 L276.91 724.91 L277.49 723.81 L278.08 722.71 L278.68 721.63 L279.30 720.55 L279.93 719.49 L280.57 718.44 L281.24 717.41 L281.91 716.39 L282.61 715.38 L283.31 714.39 L284.04 713.41 L284.78 712.45 L285.54 711.50 L286.32 710.57 L287.12 709.67 L287.93 708.78 L288.77 707.90 L289.62 707.05 L290.48 706.23 L291.36 705.42 L292.26 704.64 L293.18 703.88 L294.11 703.14 L295.05 702.43 L296.01 701.75 L296.99 701.10 L297.98 700.47 L298.98 699.87 L300.00 699.30 L301.03 698.77 L302.07 698.26 L303.13 697.79 L304.20 697.35 L305.28 696.95 L306.37 696.57 L307.48 696.23 L308.59 695.92 L309.71 695.63 L310.85 695.38 L311.99 695.15 L313.15 694.95 L314.31 694.77 L315.48 694.61 L316.66 694.47 L317.85 694.36 L319.04 694.26 L320.24 694.19 L321.44 694.13 L322.66 694.09 L323.87 694.06 L325.09 694.05 L326.32 694.04 L327.55 694.06 L328.78 694.08 L330.02 694.11 L331.26 694.14 L332.50 694.19 L333.75 694.24 L334.99 694.30 L336.24 694.36 L337.49 694.42 L338.74 694.48 L339.99 694.54 L341.23 694.60 L342.48 694.66 L343.72 694.72 L344.97 694.77 L346.21 694.82 L347.45 694.86 L348.68 694.89 L349.92 694.91 L351.15 694.93 L352.37 694.93 L353.59 694.92 L354.81 694.90 L356.02 694.87 L357.23 694.82 L358.43 694.76 L359.63 694.67 L360.82 694.58 L362.00 694.46 L363.18 694.32 L364.35 694.16 L365.51 693.98 L366.67 693.78 L367.81 693.55 L368.95 693.30 L370.08 693.02 L371.20 692.72 L372.31 692.39 L373.41 692.03 L374.50 691.64 L375.58 691.21 L376.65 690.76 L377.71 690.27 L378.75 689.76 L379.79 689.21 L380.81 688.63 L381.81 688.02 L382.81 687.38 L383.79 686.72 L384.75 686.02 L385.70 685.29 L386.64 684.54 L387.55 683.76 L388.46 682.95 L389.34 682.11 L390.21 681.25 L391.05 680.36 L391.88 679.44 L392.69 678.50 L393.48 677.53 L394.25 676.54 L395.00 675.52 L395.73 674.48 L396.44 673.42 L397.12 672.33 L397.79 671.21 L397.90 671.01" fill="none" stroke="#70AD47" stroke-width="2.50" stroke-linecap="round" stroke-linejoin="round"/>
<path d="M260.00 770.60 L260.29 769.41 L260.59 768.22 L260.90 767.03 L261.22 765.84 L261.54 764.65 L261.87 763.46 L262.21 762.27 L262.56 761.08 L262.92 759.90 L263.28 758.71 L263.66 757.53 L264.04 756.34 L264.43 755.16 L264.82 753.98 L265.23 752.81 L265.64 751.63 L266.07 750.46 L266.50 749.29 L266.94 748.12 L267.38 746.96 L267.84 745.80 L268.30 744.64 L268.78 743.48 L269.26 742.33 L269.75 741.18 L270.25 740.04 L270.75 738.90 L271.27 737.77 L271.79 736.63 L272.33 735.51 L272.87 734.38 L273.42 733.27 L273.98 732.16 L274.54 731.05 L275.12 729.95 L275.71 728.85 L276.30 727.76 L276.91 726.67 L277.52 725.60 L278.14 724.52 L278.77 723.46 L279.41 722.40 L280.06 721.34 L280.72 720.30 L281.38 719.26 L282.06 718.23 L282.75 717.20 L283.44 716.18 L284.14 715.17 L284.86 714.17 L285.58 713.18 L286.31 712.19 L287.05 711.21 L287.80 710.24 L288.56 709.28 L289.33 708.33 L290.11 707.39 L290.90 706.46 L291.70 705.53 L292.51 704.62 L293.32 703.71 L294.15 702.82 L294.99 701.93 L295.83 701.06 L296.69 700.19 L297.56 699.34 L298.43 698.49 L299.31 697.66 L300.21 696.83 L301.11 696.02 L302.02 695.21 L302.94 694.42 L303.87 693.63 L304.81 692.85 L305.75 692.09 L306.71 691.33 L307.67 690.58 L308.64 689.85 L309.61 689.12 L310.60 688.40 L311.59 687.69 L312.59 686.99 L313.59 686.30 L314.61 685.61 L315.63 684.94 L316.65 684.28 L317.69 683.62 L318.73 682.97 L319.77 682.33 L320.82 681.70 L321.88 681.08 L322.95 680.47 L324.01 679.86 L325.09 679.27 L326.17 678.68 L327.26 678.10 L328.35 677.53 L329.44 676.96 L330.54 676.41 L331.65 675.86 L332.76 675.32 L333.87 674.79 L334.99 674.26 L336.11 673.74 L337.24 673.23 L338.37 672.72 L339.50 672.22 L340.63 671.73 L341.77 671.24 L342.91 670.75 L344.06 670.27 L345.20 669.80 L346.35 669.33 L347.50 668.86 L348.66 668.39 L349.81 667.93 L350.97 667.48 L352.12 667.02 L353.28 666.57 L354.44 666.11 L355.60 665.67 L356.76 665.22 L357.92 664.77 L359.08 664.32 L360.25 663.88 L361.41 663.43 L362.57 662.99 L363.73 662.54 L364.89 662.10 L366.05 661.65 L367.20 661.20 L368.36 660.75 L369.52 660.30 L370.67 659.85 L371.82 659.39 L372.97 658.93 L374.12 658.47 L375.26 658.01 L376.40 657.54 L377.54 657.07 L378.68 656.59 L379.81 656.11 L380.94 655.63 L382.07 655.14 L383.19 654.64 L384.31 654.14 L385.43 653.64 L386.54 653.12 L387.65 652.61 L388.75 652.08 L389.85 651.55 L390.94 651.01 L392.03 650.46 L393.11 649.90 L394.18 649.34 L395.25 648.77 L396.32 648.19 L397.38 647.60 L397.90 647.30" fill="none" stroke="#264478" stroke-width="2.50" stroke-linecap="round" stroke-linejoin="round"/>
<path d="M260.00 770.60 L260.29 769.59 L260.57 768.55 L260.86 767.51 L261.15 766.45 L261.45 765.38 L261.75 764.29 L262.05 763.20 L262.35 762.09 L262.65 760.96 L262.96 759.83 L263.28 758.69 L263.60 757.54 L263.92 756.38 L264.24 755.21 L264.57 754.04 L264.91 752.85 L265.25 751.67 L265.60 750.47 L265.95 749.27 L266.31 748.07 L266.67 746.86 L267.04 745.64 L267.42 744.43 L267.80 743.21 L268.19 741.99 L268.59 740.77 L268.99 739.55 L269.41 738.33 L269.83 737.11 L270.25 735.89 L270.69 734.67 L271.14 733.46 L271.59 732.25 L272.05 731.04 L272.52 729.84 L273.00 728.64 L273.49 727.44 L273.99 726.26 L274.50 725.07 L275.02 723.90 L275.56 722.73 L276.10 721.58 L276.65 720.43 L277.21 719.29 L277.79 718.16 L278.38 717.04 L278.97 715.93 L279.58 714.84 L280.21 713.76 L280.84 712.69 L281.49 711.63 L282.15 710.59 L282.83 709.56 L283.51 708.55 L284.21 707.56 L284.93 706.58 L285.66 705.62 L286.40 704.67 L287.16 703.75 L287.93 702.84 L288.72 701.96 L289.52 701.09 L290.34 700.25 L291.17 699.42 L292.02 698.62 L292.88 697.84 L293.77 697.08 L294.66 696.35 L295.58 695.64 L296.51 694.96 L297.46 694.30 L298.42 693.67 L299.41 693.07 L300.41 692.49 L301.43 691.94 L302.46 691.42 L303.52 690.92 L304.59 690.46 L305.67 690.01 L306.77 689.60 L307.89 689.21 L309.01 688.84 L310.15 688.50 L311.30 688.18 L312.47 687.89 L313.64 687.62 L314.82 687.37 L316.02 687.15 L317.22 686.95 L318.43 686.76 L319.64 686.60 L320.87 686.46 L322.10 686.35 L323.33 686.25 L324.57 686.17 L325.81 686.11 L327.06 686.06 L328.31 686.04 L329.56 686.03 L330.81 686.04 L332.06 686.07 L333.32 686.12 L334.57 686.18 L335.82 686.25 L337.06 686.34 L338.31 686.45 L339.55 686.56 L340.79 686.69 L342.03 686.83 L343.27 686.97 L344.50 687.12 L345.73 687.27 L346.96 687.42 L348.19 687.58 L349.41 687.73 L350.63 687.88 L351.85 688.03 L353.07 688.18 L354.28 688.31 L355.49 688.44 L356.70 688.56 L357.90 688.66 L359.11 688.76 L360.30 688.83 L361.50 688.90 L362.69 688.94 L363.88 688.96 L365.07 688.97 L366.25 688.95 L367.43 688.91 L368.61 688.84 L369.78 688.74 L370.95 688.61 L372.12 688.46 L373.28 688.27 L374.44 688.05 L375.59 687.79 L376.75 687.50 L377.89 687.17 L379.03 686.81 L380.17 686.41 L381.30 685.97 L382.42 685.51 L383.53 685.00 L384.63 684.47 L385.72 683.91 L386.79 683.31 L387.86 682.68 L388.91 682.02 L389.94 681.33 L390.96 680.62 L391.96 679.87 L392.95 679.10 L393.91 678.29 L394.86 677.47 L395.79 676.61 L396.69 675.73 L397.57 674.82 L397.90 674.47" fill="none" stroke="#9E480E" stroke-width="2.50" stroke-linecap="round" stroke-linejoin="round"/>
<path d="M260.00 770.60 L260.25 769.58 L260.51 768.55 L260.78 767.51 L261.06 766.48 L261.36 765.44 L261.66 764.40 L261.98 763.35 L262.31 762.31 L262.65 761.26 L263.00 760.21 L263.36 759.16 L263.73 758.11 L264.12 757.07 L264.51 756.02 L264.92 754.97 L265.34 753.92 L265.77 752.88 L266.21 751.84 L266.66 750.80 L267.12 749.77 L267.59 748.73 L268.08 747.71 L268.57 746.68 L269.08 745.66 L269.59 744.65 L270.12 743.64 L270.66 742.64 L271.21 741.65 L271.77 740.66 L272.34 739.68 L272.93 738.71 L273.52 737.74 L274.12 736.79 L274.74 735.84 L275.37 734.90 L276.00 733.97 L276.65 733.06 L277.31 732.15 L277.98 731.26 L278.66 730.37 L279.35 729.50 L280.05 728.64 L280.77 727.79 L281.49 726.96 L282.23 726.14 L282.97 725.34 L283.73 724.55 L284.49 723.77 L285.27 723.01 L286.06 722.26 L286.86 721.53 L287.66 720.82 L288.48 720.13 L289.31 719.45 L290.15 718.79 L291.01 718.15 L291.87 717.53 L292.74 716.92 L293.62 716.34 L294.52 715.77 L295.42 715.23 L296.34 714.71 L297.26 714.20 L298.20 713.72 L299.14 713.27 L300.10 712.83 L301.07 712.42 L302.04 712.03 L303.03 711.66 L304.03 711.31 L305.03 710.99 L306.05 710.68 L307.07 710.39 L308.10 710.12 L309.14 709.88 L310.19 709.64 L311.24 709.43 L312.30 709.23 L313.37 709.04 L314.44 708.87 L315.53 708.72 L316.61 708.58 L317.70 708.45 L318.80 708.33 L319.90 708.23 L321.01 708.13 L322.11 708.05 L323.23 707.98 L324.34 707.91 L325.46 707.85 L326.59 707.80 L327.71 707.76 L328.84 707.73 L329.97 707.70 L331.10 707.67 L332.23 707.65 L333.36 707.63 L334.49 707.62 L335.63 707.61 L336.76 707.59 L337.89 707.59 L339.02 707.58 L340.15 707.57 L341.28 707.56 L342.41 707.55 L343.53 707.53 L344.65 707.52 L345.78 707.50 L346.90 707.48 L348.01 707.45 L349.13 707.42 L350.24 707.39 L351.35 707.35 L352.46 707.31 L353.57 707.26 L354.67 707.20 L355.77 707.14 L356.87 707.07 L357.97 706.99 L359.06 706.90 L360.15 706.81 L361.23 706.70 L362.32 706.59 L363.40 706.47 L364.47 706.33 L365.55 706.19 L366.62 706.03 L367.68 705.86 L368.74 705.68 L369.80 705.49 L370.86 705.28 L371.91 705.06 L372.95 704.83 L374.00 704.58 L375.03 704.31 L376.07 704.03 L377.10 703.74 L378.12 703.43 L379.14 703.10 L380.16 702.75 L381.17 702.39 L382.17 702.00 L383.17 701.60 L384.17 701.18 L385.16 700.74 L386.14 700.28 L387.12 699.80 L388.10 699.30 L389.07 698.78 L390.03 698.24 L390.99 697.67 L391.94 697.08 L392.88 696.47 L393.82 695.83 L394.76 695.17 L395.69 694.49 L396.61 693.77 L397.52 693.04 L397.90 692.72" fill="none" stroke="#636363" stroke-width="2.50" stroke-linecap="round" stroke-linejoin="round"/>
<path d="M260.00 770.60 L260.26 769.61 L260.53 768.61 L260.81 767.61 L261.11 766.60 L261.43 765.58 L261.75 764.56 L262.09 763.54 L262.44 762.51 L262.81 761.48 L263.19 760.45 L263.58 759.41 L263.99 758.37 L264.40 757.34 L264.84 756.30 L265.28 755.26 L265.74 754.22 L266.21 753.18 L266.69 752.15 L267.19 751.11 L267.69 750.08 L268.22 749.06 L268.75 748.03 L269.29 747.02 L269.85 746.00 L270.42 745.00 L271.00 743.99 L271.60 743.00 L272.20 742.01 L272.82 741.03 L273.45 740.06 L274.10 739.10 L274.75 738.15 L275.42 737.21 L276.09 736.27 L276.78 735.35 L277.48 734.44 L278.20 733.55 L278.92 732.66 L279.65 731.79 L280.40 730.94 L281.16 730.10 L281.93 729.27 L282.71 728.46 L283.50 727.66 L284.30 726.88 L285.11 726.12 L285.94 725.38 L286.77 724.65 L287.61 723.95 L288.47 723.26 L289.34 722.59 L290.21 721.95 L291.10 721.32 L292.00 720.72 L292.91 720.14 L293.82 719.58 L294.75 719.05 L295.69 718.53 L296.64 718.05 L297.60 717.59 L298.57 717.15 L299.54 716.74 L300.53 716.36 L301.53 716.00 L302.54 715.67 L303.56 715.37 L304.58 715.10 L305.62 714.84 L306.66 714.62 L307.71 714.41 L308.77 714.23 L309.83 714.07 L310.91 713.92 L311.99 713.80 L313.07 713.69 L314.17 713.60 L315.26 713.53 L316.37 713.47 L317.48 713.42 L318.59 713.38 L319.71 713.36 L320.83 713.35 L321.96 713.34 L323.09 713.34 L324.22 713.35 L325.35 713.37 L326.49 713.39 L327.63 713.42 L328.77 713.45 L329.91 713.48 L331.06 713.51 L332.20 713.54 L333.35 713.57 L334.49 713.59 L335.64 713.62 L336.78 713.64 L337.93 713.65 L339.07 713.66 L340.21 713.66 L341.35 713.65 L342.49 713.63 L343.63 713.60 L344.76 713.57 L345.89 713.52 L347.02 713.46 L348.14 713.40 L349.26 713.32 L350.38 713.23 L351.50 713.13 L352.61 713.02 L353.71 712.90 L354.82 712.77 L355.91 712.62 L357.01 712.46 L358.10 712.29 L359.18 712.10 L360.26 711.91 L361.33 711.70 L362.40 711.47 L363.46 711.23 L364.52 710.98 L365.57 710.71 L366.62 710.42 L367.66 710.12 L368.69 709.81 L369.71 709.48 L370.73 709.13 L371.74 708.77 L372.74 708.39 L373.74 708.00 L374.72 707.58 L375.70 707.15 L376.68 706.70 L377.64 706.24 L378.59 705.75 L379.54 705.25 L380.48 704.73 L381.40 704.18 L382.32 703.62 L383.23 703.04 L384.13 702.44 L385.02 701.82 L385.90 701.18 L386.77 700.52 L387.63 699.84 L388.47 699.13 L389.31 698.41 L390.14 697.66 L390.95 696.89 L391.75 696.10 L392.55 695.29 L393.32 694.45 L394.09 693.59 L394.85 692.70 L395.59 691.80 L396.32 690.86 L397.04 689.91 L397.74 688.93 L397.90 688.70" fill="none" stroke="#997300" stroke-width="2.50" stroke-linecap="round" stroke-linejoin="round"/>
<text x="241.60" y="776.70" font-size="17.20" font-weight="bold" fill="#595959" text-anchor="end" textLength="9.65" lengthAdjust="spacingAndGlyphs">0</text>
<text x="241.60" y="746.98" font-size="17.20" font-weight="bold" fill="#595959" text-anchor="end" textLength="19.30" lengthAdjust="spacingAndGlyphs">20</text>
<text x="241.60" y="717.26" font-size="17.20" font-weight="bold" fill="#595959" text-anchor="end" textLength="19.30" lengthAdjust="spacingAndGlyphs">40</text>
<text x="241.60" y="687.54" font-size="17.20" font-weight="bold" fill="#595959" text-anchor="end" textLength="19.30" lengthAdjust="spacingAndGlyphs">60</text>
<text x="241.60" y="657.82" font-size="17.20" font-weight="bold" fill="#595959" text-anchor="end" textLength="19.30" lengthAdjust="spacingAndGlyphs">80</text>
<text x="241.60" y="628.10" font-size="17.20" font-weight="bold" fill="#595959" text-anchor="end" textLength="28.95" lengthAdjust="spacingAndGlyphs">100</text>
<text x="241.60" y="598.38" font-size="17.20" font-weight="bold" fill="#595959" text-anchor="end" textLength="28.95" lengthAdjust="spacingAndGlyphs">120</text>
<text x="241.60" y="568.66" font-size="17.20" font-weight="bold" fill="#595959" text-anchor="end" textLength="28.95" lengthAdjust="spacingAndGlyphs">140</text>
<text x="241.60" y="538.94" font-size="17.20" font-weight="bold" fill="#595959" text-anchor="end" textLength="28.95" lengthAdjust="spacingAndGlyphs">160</text>
<text x="241.60" y="509.22" font-size="17.20" font-weight="bold" fill="#595959" text-anchor="end" textLength="28.95" lengthAdjust="spacingAndGlyphs">180</text>
<text x="241.60" y="479.50" font-size="17.20" font-weight="bold" fill="#595959" text-anchor="end" textLength="28.95" lengthAdjust="spacingAndGlyphs">200</text>
<text transform="rotate(0.05 260.00 798.50)" x="260.00" y="798.50" font-size="15.90" font-weight="bold" fill="#595959" text-anchor="middle" textLength="9.45" lengthAdjust="spacingAndGlyphs">0</text>
<text transform="rotate(0.05 307.35 798.50)" x="307.35" y="798.50" font-size="15.90" font-weight="bold" fill="#595959" text-anchor="middle" textLength="32.95" lengthAdjust="spacingAndGlyphs">0.05</text>
<text transform="rotate(0.05 354.70 798.50)" x="354.70" y="798.50" font-size="15.90" font-weight="bold" fill="#595959" text-anchor="middle" textLength="23.50" lengthAdjust="spacingAndGlyphs">0.1</text>
<text transform="rotate(0.05 402.05 798.50)" x="402.05" y="798.50" font-size="15.90" font-weight="bold" fill="#595959" text-anchor="middle" textLength="32.95" lengthAdjust="spacingAndGlyphs">0.15</text>
<text transform="rotate(0.05 449.40 798.50)" x="449.40" y="798.50" font-size="15.90" font-weight="bold" fill="#595959" text-anchor="middle" textLength="23.50" lengthAdjust="spacingAndGlyphs">0.2</text>
<text x="293.90" y="822.70" font-size="14.4" font-weight="bold" fill="#595959" textLength="121.10" lengthAdjust="spacingAndGlyphs">Strain (mm/mm)</text>
<text transform="translate(203.30 664.00) rotate(-90)" font-size="16.00" font-weight="bold" fill="#595959" textLength="84.00" lengthAdjust="spacingAndGlyphs">Stress (MPa)</text>
<line x1="433.20" y1="511.80" x2="464.00" y2="511.80" stroke="#4472C4" stroke-width="2.4" stroke-linecap="round"/>
<text x="468.00" y="516.50" font-size="14.4" font-weight="bold" fill="#595959">Test 1</text>
<line x1="433.20" y1="538.90" x2="464.00" y2="538.90" stroke="#ED7D31" stroke-width="2.4" stroke-linecap="round"/>
<text x="468.00" y="543.60" font-size="14.4" font-weight="bold" fill="#595959">Test 2</text>
<line x1="433.20" y1="566.00" x2="464.00" y2="566.00" stroke="#A5A5A5" stroke-width="2.4" stroke-linecap="round"/>
<text x="468.00" y="570.70" font-size="14.4" font-weight="bold" fill="#595959">Test 3</text>
<line x1="433.20" y1="593.10" x2="464.00" y2="593.10" stroke="#FFC000" stroke-width="2.4" stroke-linecap="round"/>
<text x="468.00" y="597.80" font-size="14.4" font-weight="bold" fill="#595959">Test 4</text>
<line x1="433.20" y1="620.20" x2="464.00" y2="620.20" stroke="#5B9BD5" stroke-width="2.4" stroke-linecap="round"/>
<text x="468.00" y="624.90" font-size="14.4" font-weight="bold" fill="#595959">Test 5</text>
<line x1="433.20" y1="647.30" x2="464.00" y2="647.30" stroke="#70AD47" stroke-width="2.4" stroke-linecap="round"/>
<text x="468.00" y="652.00" font-size="14.4" font-weight="bold" fill="#595959">Test 6</text>
<line x1="433.20" y1="674.40" x2="464.00" y2="674.40" stroke="#264478" stroke-width="2.4" stroke-linecap="round"/>
<text x="468.00" y="679.10" font-size="14.4" font-weight="bold" fill="#595959">Test 7</text>
<line x1="433.20" y1="701.50" x2="464.00" y2="701.50" stroke="#9E480E" stroke-width="2.4" stroke-linecap="round"/>
<text x="468.00" y="706.20" font-size="14.4" font-weight="bold" fill="#595959">Test 8</text>
<line x1="433.20" y1="728.60" x2="464.00" y2="728.60" stroke="#636363" stroke-width="2.4" stroke-linecap="round"/>
<text x="468.00" y="733.30" font-size="14.4" font-weight="bold" fill="#595959">Test 9</text>
<line x1="433.20" y1="755.70" x2="464.00" y2="755.70" stroke="#997300" stroke-width="2.4" stroke-linecap="round"/>
<text x="468.00" y="760.40" font-size="14.4" font-weight="bold" fill="#595959">Test 10</text>
<path d="M278.10 866.90 H275.35 V882.20 H278.10 M290.70 866.90 H293.45 V882.20 H290.70" fill="none" stroke="#000" stroke-width="1.4"/>
<text x="279.30" y="879.80" font-size="17" fill="#000" textLength="10.10" lengthAdjust="spacingAndGlyphs">C</text>
</g>
</svg>
</body></html>
